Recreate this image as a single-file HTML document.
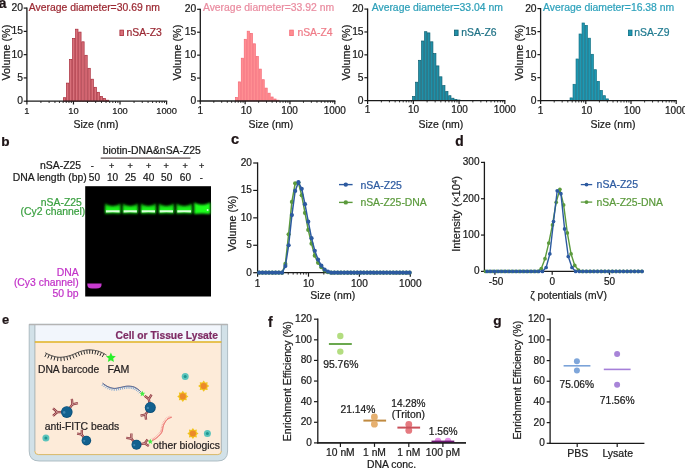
<!DOCTYPE html>
<html><head><meta charset="utf-8"><style>
html,body{margin:0;padding:0;background:#fff;width:685px;height:469px;overflow:hidden}
svg{display:block;font-family:"Liberation Sans", sans-serif;will-change:transform}
text{stroke-width:0.22px;paint-order:stroke}
</style></head><body>
<svg width="685" height="469" viewBox="0 0 685 469">
<defs>
<filter id="gb" x="-30%" y="-60%" width="160%" height="220%"><feGaussianBlur stdDeviation="0.85"/></filter>
<linearGradient id="bandg" x1="0" y1="0" x2="0" y2="1"><stop offset="0" stop-color="#0c900c"/><stop offset="0.45" stop-color="#18f018"/><stop offset="0.75" stop-color="#1ef81e"/><stop offset="1" stop-color="#0a800a"/></linearGradient>
<filter id="gs" x="-30%" y="-60%" width="160%" height="220%"><feGaussianBlur stdDeviation="0.5"/></filter>
</defs>
<text x="-1.3" y="7.5" font-size="13.8" fill="#1e1416" stroke="#1e1416" font-weight="bold">a</text>
<text x="1.15" y="145.6" font-size="13.6" fill="#1e1416" stroke="#1e1416" font-weight="bold">b</text>
<text x="231.1" y="144.1" font-size="14.5" fill="#1e1416" stroke="#1e1416" font-weight="bold">c</text>
<text x="455.2" y="145.6" font-size="13.8" fill="#1e1416" stroke="#1e1416" font-weight="bold">d</text>
<text x="2.1" y="324.3" font-size="12.9" fill="#1e1416" stroke="#1e1416" font-weight="bold">e</text>
<text x="268" y="327.1" font-size="13.8" fill="#1e1416" stroke="#1e1416" font-weight="bold">f</text>
<text x="493.2" y="324.6" font-size="13.6" fill="#1e1416" stroke="#1e1416" font-weight="bold">g</text>
<rect x="63.35" y="97.7" width="2.37" height="3.5" fill="#d8707a" stroke="#a82c3a" stroke-width="0.7"/>
<rect x="66.42" y="83.1" width="2.37" height="18.1" fill="#d8707a" stroke="#a82c3a" stroke-width="0.7"/>
<rect x="69.49" y="59.5" width="2.37" height="41.7" fill="#d8707a" stroke="#a82c3a" stroke-width="0.7"/>
<rect x="72.56" y="38.5" width="2.37" height="62.7" fill="#d8707a" stroke="#a82c3a" stroke-width="0.7"/>
<rect x="75.63" y="29.2" width="2.37" height="72" fill="#d8707a" stroke="#a82c3a" stroke-width="0.7"/>
<rect x="78.7" y="32.1" width="2.37" height="69.1" fill="#d8707a" stroke="#a82c3a" stroke-width="0.7"/>
<rect x="81.77" y="41.8" width="2.37" height="59.4" fill="#d8707a" stroke="#a82c3a" stroke-width="0.7"/>
<rect x="84.84" y="55.3" width="2.37" height="45.9" fill="#d8707a" stroke="#a82c3a" stroke-width="0.7"/>
<rect x="87.91" y="68.3" width="2.37" height="32.9" fill="#d8707a" stroke="#a82c3a" stroke-width="0.7"/>
<rect x="90.98" y="79.2" width="2.37" height="22" fill="#d8707a" stroke="#a82c3a" stroke-width="0.7"/>
<rect x="94.05" y="87.3" width="2.37" height="13.9" fill="#d8707a" stroke="#a82c3a" stroke-width="0.7"/>
<rect x="97.12" y="92.3" width="2.37" height="8.9" fill="#d8707a" stroke="#a82c3a" stroke-width="0.7"/>
<rect x="100.19" y="96.5" width="2.37" height="4.7" fill="#d8707a" stroke="#a82c3a" stroke-width="0.7"/>
<rect x="103.26" y="98.5" width="2.37" height="2.7" fill="#d8707a" stroke="#a82c3a" stroke-width="0.7"/>
<rect x="106.33" y="100.2" width="2.37" height="1" fill="#d8707a" stroke="#a82c3a" stroke-width="0.7"/>
<line x1="26.9" y1="7.5" x2="26.9" y2="101.8" stroke="#1a1a1a" stroke-width="1.3"/>
<line x1="23.7" y1="101.2" x2="26.9" y2="101.2" stroke="#1a1a1a" stroke-width="1.2"/>
<text x="22.9" y="104.1" font-size="10.3" fill="#1a1a1a" stroke="#1a1a1a" text-anchor="end">0</text>
<line x1="23.7" y1="77.92" x2="26.9" y2="77.92" stroke="#1a1a1a" stroke-width="1.2"/>
<text x="22.9" y="80.83" font-size="10.3" fill="#1a1a1a" stroke="#1a1a1a" text-anchor="end">5</text>
<line x1="23.7" y1="54.65" x2="26.9" y2="54.65" stroke="#1a1a1a" stroke-width="1.2"/>
<text x="22.9" y="57.55" font-size="10.3" fill="#1a1a1a" stroke="#1a1a1a" text-anchor="end">10</text>
<line x1="23.7" y1="31.38" x2="26.9" y2="31.38" stroke="#1a1a1a" stroke-width="1.2"/>
<text x="22.9" y="34.27" font-size="10.3" fill="#1a1a1a" stroke="#1a1a1a" text-anchor="end">15</text>
<line x1="23.7" y1="8.1" x2="26.9" y2="8.1" stroke="#1a1a1a" stroke-width="1.2"/>
<text x="22.9" y="11" font-size="10.3" fill="#1a1a1a" stroke="#1a1a1a" text-anchor="end">20</text>
<line x1="26.3" y1="101.2" x2="167.2" y2="101.2" stroke="#1a1a1a" stroke-width="1.3"/>
<line x1="26.9" y1="101.2" x2="26.9" y2="104.5" stroke="#1a1a1a" stroke-width="1.2"/>
<text x="26.9" y="113.9" font-size="9.3" fill="#1a1a1a" stroke="#1a1a1a" text-anchor="middle">1</text>
<line x1="40.92" y1="101.2" x2="40.92" y2="103" stroke="#1a1a1a" stroke-width="0.9"/>
<line x1="49.12" y1="101.2" x2="49.12" y2="103" stroke="#1a1a1a" stroke-width="0.9"/>
<line x1="54.94" y1="101.2" x2="54.94" y2="103" stroke="#1a1a1a" stroke-width="0.9"/>
<line x1="59.45" y1="101.2" x2="59.45" y2="103" stroke="#1a1a1a" stroke-width="0.9"/>
<line x1="63.14" y1="101.2" x2="63.14" y2="103" stroke="#1a1a1a" stroke-width="0.9"/>
<line x1="66.25" y1="101.2" x2="66.25" y2="103" stroke="#1a1a1a" stroke-width="0.9"/>
<line x1="68.95" y1="101.2" x2="68.95" y2="103" stroke="#1a1a1a" stroke-width="0.9"/>
<line x1="71.34" y1="101.2" x2="71.34" y2="103" stroke="#1a1a1a" stroke-width="0.9"/>
<line x1="73.47" y1="101.2" x2="73.47" y2="104.5" stroke="#1a1a1a" stroke-width="1.2"/>
<text x="73.47" y="113.9" font-size="9.3" fill="#1a1a1a" stroke="#1a1a1a" text-anchor="middle">10</text>
<line x1="87.48" y1="101.2" x2="87.48" y2="103" stroke="#1a1a1a" stroke-width="0.9"/>
<line x1="95.68" y1="101.2" x2="95.68" y2="103" stroke="#1a1a1a" stroke-width="0.9"/>
<line x1="101.5" y1="101.2" x2="101.5" y2="103" stroke="#1a1a1a" stroke-width="0.9"/>
<line x1="106.02" y1="101.2" x2="106.02" y2="103" stroke="#1a1a1a" stroke-width="0.9"/>
<line x1="109.7" y1="101.2" x2="109.7" y2="103" stroke="#1a1a1a" stroke-width="0.9"/>
<line x1="112.82" y1="101.2" x2="112.82" y2="103" stroke="#1a1a1a" stroke-width="0.9"/>
<line x1="115.52" y1="101.2" x2="115.52" y2="103" stroke="#1a1a1a" stroke-width="0.9"/>
<line x1="117.9" y1="101.2" x2="117.9" y2="103" stroke="#1a1a1a" stroke-width="0.9"/>
<line x1="120.03" y1="101.2" x2="120.03" y2="104.5" stroke="#1a1a1a" stroke-width="1.2"/>
<text x="120.03" y="113.9" font-size="9.3" fill="#1a1a1a" stroke="#1a1a1a" text-anchor="middle">100</text>
<line x1="134.05" y1="101.2" x2="134.05" y2="103" stroke="#1a1a1a" stroke-width="0.9"/>
<line x1="142.25" y1="101.2" x2="142.25" y2="103" stroke="#1a1a1a" stroke-width="0.9"/>
<line x1="148.07" y1="101.2" x2="148.07" y2="103" stroke="#1a1a1a" stroke-width="0.9"/>
<line x1="152.58" y1="101.2" x2="152.58" y2="103" stroke="#1a1a1a" stroke-width="0.9"/>
<line x1="156.27" y1="101.2" x2="156.27" y2="103" stroke="#1a1a1a" stroke-width="0.9"/>
<line x1="159.39" y1="101.2" x2="159.39" y2="103" stroke="#1a1a1a" stroke-width="0.9"/>
<line x1="162.09" y1="101.2" x2="162.09" y2="103" stroke="#1a1a1a" stroke-width="0.9"/>
<line x1="164.47" y1="101.2" x2="164.47" y2="103" stroke="#1a1a1a" stroke-width="0.9"/>
<line x1="166.6" y1="101.2" x2="166.6" y2="104.5" stroke="#1a1a1a" stroke-width="1.2"/>
<text x="166.6" y="113.9" font-size="9.3" fill="#1a1a1a" stroke="#1a1a1a" text-anchor="middle">1000</text>
<text transform="translate(9.6,52.6) rotate(-90)" x="0" y="0" font-size="10.8" fill="#1a1a1a" stroke="#1a1a1a" text-anchor="middle">Volume (%)</text>
<text x="96" y="127.6" font-size="10.5" fill="#1a1a1a" stroke="#1a1a1a" text-anchor="middle">Size (nm)</text>
<text x="28.8" y="10.7" font-size="10.4" fill="#9c2832" stroke="#9c2832">Average diameter=30.69 nm</text>
<rect x="119.9" y="30.1" width="3.6" height="5.5" fill="#d8707a" stroke="#a82c3a" stroke-width="0.8"/>
<text x="126.6" y="35.8" font-size="10.4" fill="#9a2833" stroke="#9a2833">nSA-Z3</text>
<rect x="235.35" y="97.4" width="2.26" height="3.6" fill="#ff8e92" stroke="#f56a76" stroke-width="0.7"/>
<rect x="238.31" y="81.9" width="2.26" height="19.1" fill="#ff8e92" stroke="#f56a76" stroke-width="0.7"/>
<rect x="241.27" y="58.2" width="2.26" height="42.8" fill="#ff8e92" stroke="#f56a76" stroke-width="0.7"/>
<rect x="244.23" y="39.3" width="2.26" height="61.7" fill="#ff8e92" stroke="#f56a76" stroke-width="0.7"/>
<rect x="247.19" y="31.2" width="2.26" height="69.8" fill="#ff8e92" stroke="#f56a76" stroke-width="0.7"/>
<rect x="250.15" y="33.4" width="2.26" height="67.6" fill="#ff8e92" stroke="#f56a76" stroke-width="0.7"/>
<rect x="253.11" y="43.8" width="2.26" height="57.2" fill="#ff8e92" stroke="#f56a76" stroke-width="0.7"/>
<rect x="256.07" y="56.5" width="2.26" height="44.5" fill="#ff8e92" stroke="#f56a76" stroke-width="0.7"/>
<rect x="259.03" y="69.1" width="2.26" height="31.9" fill="#ff8e92" stroke="#f56a76" stroke-width="0.7"/>
<rect x="261.99" y="79.7" width="2.26" height="21.3" fill="#ff8e92" stroke="#f56a76" stroke-width="0.7"/>
<rect x="264.95" y="88.1" width="2.26" height="12.9" fill="#ff8e92" stroke="#f56a76" stroke-width="0.7"/>
<rect x="267.91" y="93.2" width="2.26" height="7.8" fill="#ff8e92" stroke="#f56a76" stroke-width="0.7"/>
<rect x="270.87" y="97" width="2.26" height="4" fill="#ff8e92" stroke="#f56a76" stroke-width="0.7"/>
<rect x="273.83" y="99" width="2.26" height="2" fill="#ff8e92" stroke="#f56a76" stroke-width="0.7"/>
<rect x="276.79" y="100.2" width="2.26" height="0.8" fill="#ff8e92" stroke="#f56a76" stroke-width="0.7"/>
<line x1="200.3" y1="8.7" x2="200.3" y2="101.6" stroke="#1a1a1a" stroke-width="1.3"/>
<line x1="197.1" y1="101" x2="200.3" y2="101" stroke="#1a1a1a" stroke-width="1.2"/>
<text x="196.3" y="103.9" font-size="10.3" fill="#1a1a1a" stroke="#1a1a1a" text-anchor="end">0</text>
<line x1="197.1" y1="78.08" x2="200.3" y2="78.08" stroke="#1a1a1a" stroke-width="1.2"/>
<text x="196.3" y="80.98" font-size="10.3" fill="#1a1a1a" stroke="#1a1a1a" text-anchor="end">5</text>
<line x1="197.1" y1="55.15" x2="200.3" y2="55.15" stroke="#1a1a1a" stroke-width="1.2"/>
<text x="196.3" y="58.05" font-size="10.3" fill="#1a1a1a" stroke="#1a1a1a" text-anchor="end">10</text>
<line x1="197.1" y1="32.22" x2="200.3" y2="32.22" stroke="#1a1a1a" stroke-width="1.2"/>
<text x="196.3" y="35.12" font-size="10.3" fill="#1a1a1a" stroke="#1a1a1a" text-anchor="end">15</text>
<line x1="197.1" y1="9.3" x2="200.3" y2="9.3" stroke="#1a1a1a" stroke-width="1.2"/>
<text x="196.3" y="12.2" font-size="10.3" fill="#1a1a1a" stroke="#1a1a1a" text-anchor="end">20</text>
<line x1="199.7" y1="101" x2="335.4" y2="101" stroke="#1a1a1a" stroke-width="1.3"/>
<line x1="200.3" y1="101" x2="200.3" y2="104.3" stroke="#1a1a1a" stroke-width="1.2"/>
<text x="200.3" y="113.9" font-size="10" fill="#1a1a1a" stroke="#1a1a1a" text-anchor="middle">1</text>
<line x1="213.8" y1="101" x2="213.8" y2="102.8" stroke="#1a1a1a" stroke-width="0.9"/>
<line x1="221.69" y1="101" x2="221.69" y2="102.8" stroke="#1a1a1a" stroke-width="0.9"/>
<line x1="227.29" y1="101" x2="227.29" y2="102.8" stroke="#1a1a1a" stroke-width="0.9"/>
<line x1="231.64" y1="101" x2="231.64" y2="102.8" stroke="#1a1a1a" stroke-width="0.9"/>
<line x1="235.19" y1="101" x2="235.19" y2="102.8" stroke="#1a1a1a" stroke-width="0.9"/>
<line x1="238.19" y1="101" x2="238.19" y2="102.8" stroke="#1a1a1a" stroke-width="0.9"/>
<line x1="240.79" y1="101" x2="240.79" y2="102.8" stroke="#1a1a1a" stroke-width="0.9"/>
<line x1="243.08" y1="101" x2="243.08" y2="102.8" stroke="#1a1a1a" stroke-width="0.9"/>
<line x1="245.13" y1="101" x2="245.13" y2="104.3" stroke="#1a1a1a" stroke-width="1.2"/>
<text x="246.33" y="113.9" font-size="10" fill="#1a1a1a" stroke="#1a1a1a" text-anchor="middle">10</text>
<line x1="258.63" y1="101" x2="258.63" y2="102.8" stroke="#1a1a1a" stroke-width="0.9"/>
<line x1="266.52" y1="101" x2="266.52" y2="102.8" stroke="#1a1a1a" stroke-width="0.9"/>
<line x1="272.13" y1="101" x2="272.13" y2="102.8" stroke="#1a1a1a" stroke-width="0.9"/>
<line x1="276.47" y1="101" x2="276.47" y2="102.8" stroke="#1a1a1a" stroke-width="0.9"/>
<line x1="280.02" y1="101" x2="280.02" y2="102.8" stroke="#1a1a1a" stroke-width="0.9"/>
<line x1="283.02" y1="101" x2="283.02" y2="102.8" stroke="#1a1a1a" stroke-width="0.9"/>
<line x1="285.62" y1="101" x2="285.62" y2="102.8" stroke="#1a1a1a" stroke-width="0.9"/>
<line x1="287.92" y1="101" x2="287.92" y2="102.8" stroke="#1a1a1a" stroke-width="0.9"/>
<line x1="289.97" y1="101" x2="289.97" y2="104.3" stroke="#1a1a1a" stroke-width="1.2"/>
<text x="289.57" y="113.9" font-size="10" fill="#1a1a1a" stroke="#1a1a1a" text-anchor="middle">100</text>
<line x1="303.46" y1="101" x2="303.46" y2="102.8" stroke="#1a1a1a" stroke-width="0.9"/>
<line x1="311.36" y1="101" x2="311.36" y2="102.8" stroke="#1a1a1a" stroke-width="0.9"/>
<line x1="316.96" y1="101" x2="316.96" y2="102.8" stroke="#1a1a1a" stroke-width="0.9"/>
<line x1="321.3" y1="101" x2="321.3" y2="102.8" stroke="#1a1a1a" stroke-width="0.9"/>
<line x1="324.85" y1="101" x2="324.85" y2="102.8" stroke="#1a1a1a" stroke-width="0.9"/>
<line x1="327.86" y1="101" x2="327.86" y2="102.8" stroke="#1a1a1a" stroke-width="0.9"/>
<line x1="330.46" y1="101" x2="330.46" y2="102.8" stroke="#1a1a1a" stroke-width="0.9"/>
<line x1="332.75" y1="101" x2="332.75" y2="102.8" stroke="#1a1a1a" stroke-width="0.9"/>
<line x1="334.8" y1="101" x2="334.8" y2="104.3" stroke="#1a1a1a" stroke-width="1.2"/>
<text x="334.8" y="113.9" font-size="10" fill="#1a1a1a" stroke="#1a1a1a" text-anchor="middle">1000</text>
<text transform="translate(181.1,52.6) rotate(-90)" x="0" y="0" font-size="10.8" fill="#1a1a1a" stroke="#1a1a1a" text-anchor="middle">Volume (%)</text>
<text x="270.9" y="127.6" font-size="10.5" fill="#1a1a1a" stroke="#1a1a1a" text-anchor="middle">Size (nm)</text>
<text x="202.9" y="10.7" font-size="10.4" fill="#ea8ca0" stroke="#ea8ca0">Average diameter=33.92 nm</text>
<rect x="289.7" y="30.1" width="3.6" height="5.5" fill="#ff8e92" stroke="#f56a76" stroke-width="0.8"/>
<text x="297.4" y="35.8" font-size="10.4" fill="#ef7c88" stroke="#ef7c88">nSA-Z4</text>
<rect x="412.55" y="96.5" width="2.31" height="4.1" fill="#2090a8" stroke="#0f6072" stroke-width="0.7"/>
<rect x="415.56" y="82.2" width="2.31" height="18.4" fill="#2090a8" stroke="#0f6072" stroke-width="0.7"/>
<rect x="418.57" y="60.3" width="2.31" height="40.3" fill="#2090a8" stroke="#0f6072" stroke-width="0.7"/>
<rect x="421.58" y="41" width="2.31" height="59.6" fill="#2090a8" stroke="#0f6072" stroke-width="0.7"/>
<rect x="424.59" y="31.7" width="2.31" height="68.9" fill="#2090a8" stroke="#0f6072" stroke-width="0.7"/>
<rect x="427.6" y="32.9" width="2.31" height="67.7" fill="#2090a8" stroke="#0f6072" stroke-width="0.7"/>
<rect x="430.61" y="41.8" width="2.31" height="58.8" fill="#2090a8" stroke="#0f6072" stroke-width="0.7"/>
<rect x="433.62" y="53.6" width="2.31" height="47" fill="#2090a8" stroke="#0f6072" stroke-width="0.7"/>
<rect x="436.63" y="65.9" width="2.31" height="34.7" fill="#2090a8" stroke="#0f6072" stroke-width="0.7"/>
<rect x="439.64" y="76.8" width="2.31" height="23.8" fill="#2090a8" stroke="#0f6072" stroke-width="0.7"/>
<rect x="442.65" y="85.6" width="2.31" height="15" fill="#2090a8" stroke="#0f6072" stroke-width="0.7"/>
<rect x="445.66" y="91.5" width="2.31" height="9.1" fill="#2090a8" stroke="#0f6072" stroke-width="0.7"/>
<rect x="448.67" y="95.7" width="2.31" height="4.9" fill="#2090a8" stroke="#0f6072" stroke-width="0.7"/>
<rect x="451.68" y="98.2" width="2.31" height="2.4" fill="#2090a8" stroke="#0f6072" stroke-width="0.7"/>
<rect x="454.69" y="99.4" width="2.31" height="1.2" fill="#2090a8" stroke="#0f6072" stroke-width="0.7"/>
<rect x="457.7" y="100" width="2.31" height="0.6" fill="#2090a8" stroke="#0f6072" stroke-width="0.7"/>
<line x1="367.6" y1="8.5" x2="367.6" y2="101.2" stroke="#1a1a1a" stroke-width="1.3"/>
<line x1="364.4" y1="100.6" x2="367.6" y2="100.6" stroke="#1a1a1a" stroke-width="1.2"/>
<text x="363.6" y="103.5" font-size="10.3" fill="#1a1a1a" stroke="#1a1a1a" text-anchor="end">0</text>
<line x1="364.4" y1="77.72" x2="367.6" y2="77.72" stroke="#1a1a1a" stroke-width="1.2"/>
<text x="363.6" y="80.62" font-size="10.3" fill="#1a1a1a" stroke="#1a1a1a" text-anchor="end">5</text>
<line x1="364.4" y1="54.85" x2="367.6" y2="54.85" stroke="#1a1a1a" stroke-width="1.2"/>
<text x="363.6" y="57.75" font-size="10.3" fill="#1a1a1a" stroke="#1a1a1a" text-anchor="end">10</text>
<line x1="364.4" y1="31.97" x2="367.6" y2="31.97" stroke="#1a1a1a" stroke-width="1.2"/>
<text x="363.6" y="34.87" font-size="10.3" fill="#1a1a1a" stroke="#1a1a1a" text-anchor="end">15</text>
<line x1="364.4" y1="9.1" x2="367.6" y2="9.1" stroke="#1a1a1a" stroke-width="1.2"/>
<text x="363.6" y="12" font-size="10.3" fill="#1a1a1a" stroke="#1a1a1a" text-anchor="end">20</text>
<line x1="367" y1="100.6" x2="505.4" y2="100.6" stroke="#1a1a1a" stroke-width="1.3"/>
<line x1="367.6" y1="100.6" x2="367.6" y2="103.9" stroke="#1a1a1a" stroke-width="1.2"/>
<text x="367.6" y="113.2" font-size="10" fill="#1a1a1a" stroke="#1a1a1a" text-anchor="middle">1</text>
<line x1="381.37" y1="100.6" x2="381.37" y2="102.4" stroke="#1a1a1a" stroke-width="0.9"/>
<line x1="389.42" y1="100.6" x2="389.42" y2="102.4" stroke="#1a1a1a" stroke-width="0.9"/>
<line x1="395.13" y1="100.6" x2="395.13" y2="102.4" stroke="#1a1a1a" stroke-width="0.9"/>
<line x1="399.57" y1="100.6" x2="399.57" y2="102.4" stroke="#1a1a1a" stroke-width="0.9"/>
<line x1="403.19" y1="100.6" x2="403.19" y2="102.4" stroke="#1a1a1a" stroke-width="0.9"/>
<line x1="406.25" y1="100.6" x2="406.25" y2="102.4" stroke="#1a1a1a" stroke-width="0.9"/>
<line x1="408.9" y1="100.6" x2="408.9" y2="102.4" stroke="#1a1a1a" stroke-width="0.9"/>
<line x1="411.24" y1="100.6" x2="411.24" y2="102.4" stroke="#1a1a1a" stroke-width="0.9"/>
<line x1="413.33" y1="100.6" x2="413.33" y2="103.9" stroke="#1a1a1a" stroke-width="1.2"/>
<text x="413.63" y="113.2" font-size="10" fill="#1a1a1a" stroke="#1a1a1a" text-anchor="middle">10</text>
<line x1="427.1" y1="100.6" x2="427.1" y2="102.4" stroke="#1a1a1a" stroke-width="0.9"/>
<line x1="435.15" y1="100.6" x2="435.15" y2="102.4" stroke="#1a1a1a" stroke-width="0.9"/>
<line x1="440.87" y1="100.6" x2="440.87" y2="102.4" stroke="#1a1a1a" stroke-width="0.9"/>
<line x1="445.3" y1="100.6" x2="445.3" y2="102.4" stroke="#1a1a1a" stroke-width="0.9"/>
<line x1="448.92" y1="100.6" x2="448.92" y2="102.4" stroke="#1a1a1a" stroke-width="0.9"/>
<line x1="451.98" y1="100.6" x2="451.98" y2="102.4" stroke="#1a1a1a" stroke-width="0.9"/>
<line x1="454.63" y1="100.6" x2="454.63" y2="102.4" stroke="#1a1a1a" stroke-width="0.9"/>
<line x1="456.97" y1="100.6" x2="456.97" y2="102.4" stroke="#1a1a1a" stroke-width="0.9"/>
<line x1="459.07" y1="100.6" x2="459.07" y2="103.9" stroke="#1a1a1a" stroke-width="1.2"/>
<text x="459.57" y="113.2" font-size="10" fill="#1a1a1a" stroke="#1a1a1a" text-anchor="middle">100</text>
<line x1="472.83" y1="100.6" x2="472.83" y2="102.4" stroke="#1a1a1a" stroke-width="0.9"/>
<line x1="480.89" y1="100.6" x2="480.89" y2="102.4" stroke="#1a1a1a" stroke-width="0.9"/>
<line x1="486.6" y1="100.6" x2="486.6" y2="102.4" stroke="#1a1a1a" stroke-width="0.9"/>
<line x1="491.03" y1="100.6" x2="491.03" y2="102.4" stroke="#1a1a1a" stroke-width="0.9"/>
<line x1="494.65" y1="100.6" x2="494.65" y2="102.4" stroke="#1a1a1a" stroke-width="0.9"/>
<line x1="497.72" y1="100.6" x2="497.72" y2="102.4" stroke="#1a1a1a" stroke-width="0.9"/>
<line x1="500.37" y1="100.6" x2="500.37" y2="102.4" stroke="#1a1a1a" stroke-width="0.9"/>
<line x1="502.71" y1="100.6" x2="502.71" y2="102.4" stroke="#1a1a1a" stroke-width="0.9"/>
<line x1="504.8" y1="100.6" x2="504.8" y2="103.9" stroke="#1a1a1a" stroke-width="1.2"/>
<text x="504.8" y="113.2" font-size="10" fill="#1a1a1a" stroke="#1a1a1a" text-anchor="middle">1000</text>
<text transform="translate(350.4,52.6) rotate(-90)" x="0" y="0" font-size="10.8" fill="#1a1a1a" stroke="#1a1a1a" text-anchor="middle">Volume (%)</text>
<text x="440.9" y="127.6" font-size="10.5" fill="#1a1a1a" stroke="#1a1a1a" text-anchor="middle">Size (nm)</text>
<text x="371.7" y="10.7" font-size="10.4" fill="#2c9fb8" stroke="#2c9fb8">Average diameter=33.04 nm</text>
<rect x="454.5" y="30.1" width="3.6" height="5.5" fill="#2090a8" stroke="#0f6072" stroke-width="0.8"/>
<text x="461.3" y="35.8" font-size="10.4" fill="#1f7286" stroke="#1f7286">nSA-Z6</text>
<rect x="570.05" y="97.9" width="2.3" height="2.8" fill="#1f98b2" stroke="#0e6f84" stroke-width="0.7"/>
<rect x="573.05" y="84.3" width="2.3" height="16.4" fill="#1f98b2" stroke="#0e6f84" stroke-width="0.7"/>
<rect x="576.05" y="59" width="2.3" height="41.7" fill="#1f98b2" stroke="#0e6f84" stroke-width="0.7"/>
<rect x="579.05" y="34" width="2.3" height="66.7" fill="#1f98b2" stroke="#0e6f84" stroke-width="0.7"/>
<rect x="582.05" y="23" width="2.3" height="77.7" fill="#1f98b2" stroke="#0e6f84" stroke-width="0.7"/>
<rect x="585.05" y="25.4" width="2.3" height="75.3" fill="#1f98b2" stroke="#0e6f84" stroke-width="0.7"/>
<rect x="588.05" y="38.2" width="2.3" height="62.5" fill="#1f98b2" stroke="#0e6f84" stroke-width="0.7"/>
<rect x="591.05" y="54.3" width="2.3" height="46.4" fill="#1f98b2" stroke="#0e6f84" stroke-width="0.7"/>
<rect x="594.05" y="69.7" width="2.3" height="31" fill="#1f98b2" stroke="#0e6f84" stroke-width="0.7"/>
<rect x="597.05" y="81.4" width="2.3" height="19.3" fill="#1f98b2" stroke="#0e6f84" stroke-width="0.7"/>
<rect x="600.05" y="90.5" width="2.3" height="10.2" fill="#1f98b2" stroke="#0e6f84" stroke-width="0.7"/>
<rect x="603.05" y="95.7" width="2.3" height="5" fill="#1f98b2" stroke="#0e6f84" stroke-width="0.7"/>
<rect x="606.05" y="98.9" width="2.3" height="1.8" fill="#1f98b2" stroke="#0e6f84" stroke-width="0.7"/>
<line x1="540.6" y1="8" x2="540.6" y2="101.3" stroke="#1a1a1a" stroke-width="1.3"/>
<line x1="537.4" y1="100.7" x2="540.6" y2="100.7" stroke="#1a1a1a" stroke-width="1.2"/>
<text x="536.6" y="103.6" font-size="10.3" fill="#1a1a1a" stroke="#1a1a1a" text-anchor="end">0</text>
<line x1="537.4" y1="77.67" x2="540.6" y2="77.67" stroke="#1a1a1a" stroke-width="1.2"/>
<text x="536.6" y="80.58" font-size="10.3" fill="#1a1a1a" stroke="#1a1a1a" text-anchor="end">5</text>
<line x1="537.4" y1="54.65" x2="540.6" y2="54.65" stroke="#1a1a1a" stroke-width="1.2"/>
<text x="536.6" y="57.55" font-size="10.3" fill="#1a1a1a" stroke="#1a1a1a" text-anchor="end">10</text>
<line x1="537.4" y1="31.62" x2="540.6" y2="31.62" stroke="#1a1a1a" stroke-width="1.2"/>
<text x="536.6" y="34.52" font-size="10.3" fill="#1a1a1a" stroke="#1a1a1a" text-anchor="end">15</text>
<line x1="537.4" y1="8.6" x2="540.6" y2="8.6" stroke="#1a1a1a" stroke-width="1.2"/>
<text x="536.6" y="11.5" font-size="10.3" fill="#1a1a1a" stroke="#1a1a1a" text-anchor="end">20</text>
<line x1="540" y1="100.7" x2="676.8" y2="100.7" stroke="#1a1a1a" stroke-width="1.3"/>
<line x1="540.6" y1="100.7" x2="540.6" y2="104" stroke="#1a1a1a" stroke-width="1.2"/>
<text x="540.6" y="113.5" font-size="10" fill="#1a1a1a" stroke="#1a1a1a" text-anchor="middle">1</text>
<line x1="554.21" y1="100.7" x2="554.21" y2="102.5" stroke="#1a1a1a" stroke-width="0.9"/>
<line x1="562.17" y1="100.7" x2="562.17" y2="102.5" stroke="#1a1a1a" stroke-width="0.9"/>
<line x1="567.81" y1="100.7" x2="567.81" y2="102.5" stroke="#1a1a1a" stroke-width="0.9"/>
<line x1="572.19" y1="100.7" x2="572.19" y2="102.5" stroke="#1a1a1a" stroke-width="0.9"/>
<line x1="575.77" y1="100.7" x2="575.77" y2="102.5" stroke="#1a1a1a" stroke-width="0.9"/>
<line x1="578.8" y1="100.7" x2="578.8" y2="102.5" stroke="#1a1a1a" stroke-width="0.9"/>
<line x1="581.42" y1="100.7" x2="581.42" y2="102.5" stroke="#1a1a1a" stroke-width="0.9"/>
<line x1="583.73" y1="100.7" x2="583.73" y2="102.5" stroke="#1a1a1a" stroke-width="0.9"/>
<line x1="585.8" y1="100.7" x2="585.8" y2="104" stroke="#1a1a1a" stroke-width="1.2"/>
<text x="586.8" y="113.5" font-size="10" fill="#1a1a1a" stroke="#1a1a1a" text-anchor="middle">10</text>
<line x1="599.41" y1="100.7" x2="599.41" y2="102.5" stroke="#1a1a1a" stroke-width="0.9"/>
<line x1="607.37" y1="100.7" x2="607.37" y2="102.5" stroke="#1a1a1a" stroke-width="0.9"/>
<line x1="613.01" y1="100.7" x2="613.01" y2="102.5" stroke="#1a1a1a" stroke-width="0.9"/>
<line x1="617.39" y1="100.7" x2="617.39" y2="102.5" stroke="#1a1a1a" stroke-width="0.9"/>
<line x1="620.97" y1="100.7" x2="620.97" y2="102.5" stroke="#1a1a1a" stroke-width="0.9"/>
<line x1="624" y1="100.7" x2="624" y2="102.5" stroke="#1a1a1a" stroke-width="0.9"/>
<line x1="626.62" y1="100.7" x2="626.62" y2="102.5" stroke="#1a1a1a" stroke-width="0.9"/>
<line x1="628.93" y1="100.7" x2="628.93" y2="102.5" stroke="#1a1a1a" stroke-width="0.9"/>
<line x1="631" y1="100.7" x2="631" y2="104" stroke="#1a1a1a" stroke-width="1.2"/>
<text x="632.3" y="113.5" font-size="10" fill="#1a1a1a" stroke="#1a1a1a" text-anchor="middle">100</text>
<line x1="644.61" y1="100.7" x2="644.61" y2="102.5" stroke="#1a1a1a" stroke-width="0.9"/>
<line x1="652.57" y1="100.7" x2="652.57" y2="102.5" stroke="#1a1a1a" stroke-width="0.9"/>
<line x1="658.21" y1="100.7" x2="658.21" y2="102.5" stroke="#1a1a1a" stroke-width="0.9"/>
<line x1="662.59" y1="100.7" x2="662.59" y2="102.5" stroke="#1a1a1a" stroke-width="0.9"/>
<line x1="666.17" y1="100.7" x2="666.17" y2="102.5" stroke="#1a1a1a" stroke-width="0.9"/>
<line x1="669.2" y1="100.7" x2="669.2" y2="102.5" stroke="#1a1a1a" stroke-width="0.9"/>
<line x1="671.82" y1="100.7" x2="671.82" y2="102.5" stroke="#1a1a1a" stroke-width="0.9"/>
<line x1="674.13" y1="100.7" x2="674.13" y2="102.5" stroke="#1a1a1a" stroke-width="0.9"/>
<line x1="676.2" y1="100.7" x2="676.2" y2="104" stroke="#1a1a1a" stroke-width="1.2"/>
<text x="676.2" y="113.5" font-size="10" fill="#1a1a1a" stroke="#1a1a1a" text-anchor="middle">1000</text>
<text transform="translate(523.3,52.6) rotate(-90)" x="0" y="0" font-size="10.8" fill="#1a1a1a" stroke="#1a1a1a" text-anchor="middle">Volume (%)</text>
<text x="613" y="127.6" font-size="10.5" fill="#1a1a1a" stroke="#1a1a1a" text-anchor="middle">Size (nm)</text>
<text x="543" y="10.7" font-size="10.4" fill="#2ea2bc" stroke="#2ea2bc">Average diameter=16.38 nm</text>
<rect x="628.4" y="30.1" width="3.6" height="5.5" fill="#1f98b2" stroke="#0e6f84" stroke-width="0.8"/>
<text x="634.2" y="35.8" font-size="10.4" fill="#1f7a90" stroke="#1f7a90">nSA-Z9</text>
<text x="81.1" y="168.7" font-size="10.4" fill="#1a1a1a" stroke="#1a1a1a" text-anchor="end">nSA-Z25</text>
<text x="86.7" y="180.8" font-size="10.4" fill="#1a1a1a" stroke="#1a1a1a" text-anchor="end">DNA length (bp)</text>
<text x="102.7" y="154.2" font-size="10.4" fill="#1a1a1a" stroke="#1a1a1a">biotin-DNA&amp;nSA-Z25</text>
<line x1="100.7" y1="158.2" x2="190.4" y2="158.2" stroke="#5a4b4b" stroke-width="1.3"/>
<text x="92.3" y="168.9" font-size="9.2" fill="#1a1a1a" stroke="#1a1a1a" text-anchor="middle">-</text>
<text x="111.7" y="168.9" font-size="9.2" fill="#1a1a1a" stroke="#1a1a1a" text-anchor="middle">+</text>
<text x="130.3" y="168.9" font-size="9.2" fill="#1a1a1a" stroke="#1a1a1a" text-anchor="middle">+</text>
<text x="148.6" y="168.9" font-size="9.2" fill="#1a1a1a" stroke="#1a1a1a" text-anchor="middle">+</text>
<text x="166.2" y="168.9" font-size="9.2" fill="#1a1a1a" stroke="#1a1a1a" text-anchor="middle">+</text>
<text x="185.3" y="168.9" font-size="9.2" fill="#1a1a1a" stroke="#1a1a1a" text-anchor="middle">+</text>
<text x="201.8" y="168.9" font-size="9.2" fill="#1a1a1a" stroke="#1a1a1a" text-anchor="middle">+</text>
<text x="94.4" y="180.6" font-size="10.1" fill="#1a1a1a" stroke="#1a1a1a" text-anchor="middle">50</text>
<text x="112.6" y="180.6" font-size="10.1" fill="#1a1a1a" stroke="#1a1a1a" text-anchor="middle">10</text>
<text x="130.6" y="180.6" font-size="10.1" fill="#1a1a1a" stroke="#1a1a1a" text-anchor="middle">25</text>
<text x="148.7" y="180.6" font-size="10.1" fill="#1a1a1a" stroke="#1a1a1a" text-anchor="middle">40</text>
<text x="166.7" y="180.6" font-size="10.1" fill="#1a1a1a" stroke="#1a1a1a" text-anchor="middle">50</text>
<text x="185.4" y="180.6" font-size="10.1" fill="#1a1a1a" stroke="#1a1a1a" text-anchor="middle">60</text>
<text x="201.3" y="180.6" font-size="9.2" fill="#1a1a1a" stroke="#1a1a1a" text-anchor="middle">-</text>
<rect x="85.2" y="186.2" width="125.8" height="110.3" fill="#000000"/>
<text x="81.8" y="206.4" font-size="10.4" fill="#3aa040" stroke="#3aa040" text-anchor="end">nSA-Z25</text>
<text x="85.3" y="215.2" font-size="10.4" fill="#3aa040" stroke="#3aa040" text-anchor="end">(Cy2 channel)</text>
<text x="78.6" y="276.4" font-size="10.4" fill="#c232c8" stroke="#c232c8" text-anchor="end">DNA</text>
<text x="78.6" y="286.1" font-size="10.4" fill="#c232c8" stroke="#c232c8" text-anchor="end">(Cy3 channel)</text>
<text x="78.6" y="296.9" font-size="10.4" fill="#c232c8" stroke="#c232c8" text-anchor="end">50 bp</text>
<path d="M105,203.6 Q112.75,208.4 120.5,203.6 L120.5,214 Q112.75,213 105,214 Z" fill="url(#bandg)" filter="url(#gb)"/>
<path d="M105.9,210.2 Q112.75,210.5 119.6,210.2 L119.6,212.4 Q112.75,212.2 105.9,212.4 Z" fill="#d8ffd8" filter="url(#gs)"/>
<path d="M122.7,203.6 Q130.25,208.4 137.8,203.6 L137.8,214 Q130.25,213 122.7,214 Z" fill="url(#bandg)" filter="url(#gb)"/>
<path d="M123.6,210.2 Q130.25,210.5 136.9,210.2 L136.9,212.4 Q130.25,212.2 123.6,212.4 Z" fill="#d8ffd8" filter="url(#gs)"/>
<path d="M140.8,203.6 Q148.35,208.4 155.9,203.6 L155.9,214 Q148.35,213 140.8,214 Z" fill="url(#bandg)" filter="url(#gb)"/>
<path d="M141.7,210.2 Q148.35,210.5 155,210.2 L155,212.4 Q148.35,212.2 141.7,212.4 Z" fill="#d8ffd8" filter="url(#gs)"/>
<path d="M158.8,203.6 Q166.35,208.4 173.9,203.6 L173.9,214 Q166.35,213 158.8,214 Z" fill="url(#bandg)" filter="url(#gb)"/>
<path d="M159.7,210.2 Q166.35,210.5 173,210.2 L173,212.4 Q166.35,212.2 159.7,212.4 Z" fill="#d8ffd8" filter="url(#gs)"/>
<path d="M176.4,203.6 Q184.2,208.4 192,203.6 L192,214 Q184.2,213 176.4,214 Z" fill="url(#bandg)" filter="url(#gb)"/>
<path d="M177.3,210.2 Q184.2,210.5 191.1,210.2 L191.1,212.4 Q184.2,212.2 177.3,212.4 Z" fill="#d8ffd8" filter="url(#gs)"/>
<path d="M194.2,202.4 Q202.2,207 210.2,202.4 L210.2,214 Q202.2,213 194.2,214 Z" fill="#1cff1c" filter="url(#gb)"/>
<circle cx="207.6" cy="210" r="1" fill="#c8ffc8" filter="url(#gs)"/>
<path d="M87.3,283.4 L101.6,283.4 Q102,288.6 96,288.6 L92,288.6 Q87,288.6 87.3,283.4 Z" fill="#c83ad0" filter="url(#gs)"/>
<line x1="257.6" y1="162.4" x2="257.6" y2="273.3" stroke="#1a1a1a" stroke-width="1.3"/>
<line x1="253.2" y1="272.7" x2="257.6" y2="272.7" stroke="#1a1a1a" stroke-width="1.2"/>
<text x="251.9" y="275.6" font-size="10.1" fill="#1a1a1a" stroke="#1a1a1a" text-anchor="end">0</text>
<line x1="253.2" y1="245.27" x2="257.6" y2="245.27" stroke="#1a1a1a" stroke-width="1.2"/>
<text x="251.9" y="248.17" font-size="10.1" fill="#1a1a1a" stroke="#1a1a1a" text-anchor="end">5</text>
<line x1="253.2" y1="217.85" x2="257.6" y2="217.85" stroke="#1a1a1a" stroke-width="1.2"/>
<text x="251.9" y="220.75" font-size="10.1" fill="#1a1a1a" stroke="#1a1a1a" text-anchor="end">10</text>
<line x1="253.2" y1="190.43" x2="257.6" y2="190.43" stroke="#1a1a1a" stroke-width="1.2"/>
<text x="251.9" y="193.33" font-size="10.1" fill="#1a1a1a" stroke="#1a1a1a" text-anchor="end">15</text>
<line x1="253.2" y1="163" x2="257.6" y2="163" stroke="#1a1a1a" stroke-width="1.2"/>
<text x="251.9" y="165.9" font-size="10.1" fill="#1a1a1a" stroke="#1a1a1a" text-anchor="end">20</text>
<line x1="257" y1="272.7" x2="410.9" y2="272.7" stroke="#1a1a1a" stroke-width="1.3"/>
<line x1="257.6" y1="272.7" x2="257.6" y2="276.7" stroke="#1a1a1a" stroke-width="1.2"/>
<text x="257.6" y="286.9" font-size="10.1" fill="#1a1a1a" stroke="#1a1a1a" text-anchor="middle">1</text>
<line x1="272.92" y1="272.7" x2="272.92" y2="274.6" stroke="#1a1a1a" stroke-width="0.9"/>
<line x1="281.89" y1="272.7" x2="281.89" y2="274.6" stroke="#1a1a1a" stroke-width="0.9"/>
<line x1="288.24" y1="272.7" x2="288.24" y2="274.6" stroke="#1a1a1a" stroke-width="0.9"/>
<line x1="293.18" y1="272.7" x2="293.18" y2="274.6" stroke="#1a1a1a" stroke-width="0.9"/>
<line x1="297.21" y1="272.7" x2="297.21" y2="274.6" stroke="#1a1a1a" stroke-width="0.9"/>
<line x1="300.62" y1="272.7" x2="300.62" y2="274.6" stroke="#1a1a1a" stroke-width="0.9"/>
<line x1="303.57" y1="272.7" x2="303.57" y2="274.6" stroke="#1a1a1a" stroke-width="0.9"/>
<line x1="306.17" y1="272.7" x2="306.17" y2="274.6" stroke="#1a1a1a" stroke-width="0.9"/>
<line x1="308.5" y1="272.7" x2="308.5" y2="276.7" stroke="#1a1a1a" stroke-width="1.2"/>
<text x="308.5" y="286.9" font-size="10.1" fill="#1a1a1a" stroke="#1a1a1a" text-anchor="middle">10</text>
<line x1="323.82" y1="272.7" x2="323.82" y2="274.6" stroke="#1a1a1a" stroke-width="0.9"/>
<line x1="332.79" y1="272.7" x2="332.79" y2="274.6" stroke="#1a1a1a" stroke-width="0.9"/>
<line x1="339.14" y1="272.7" x2="339.14" y2="274.6" stroke="#1a1a1a" stroke-width="0.9"/>
<line x1="344.08" y1="272.7" x2="344.08" y2="274.6" stroke="#1a1a1a" stroke-width="0.9"/>
<line x1="348.11" y1="272.7" x2="348.11" y2="274.6" stroke="#1a1a1a" stroke-width="0.9"/>
<line x1="351.52" y1="272.7" x2="351.52" y2="274.6" stroke="#1a1a1a" stroke-width="0.9"/>
<line x1="354.47" y1="272.7" x2="354.47" y2="274.6" stroke="#1a1a1a" stroke-width="0.9"/>
<line x1="357.07" y1="272.7" x2="357.07" y2="274.6" stroke="#1a1a1a" stroke-width="0.9"/>
<line x1="359.4" y1="272.7" x2="359.4" y2="276.7" stroke="#1a1a1a" stroke-width="1.2"/>
<text x="359.4" y="286.9" font-size="10.1" fill="#1a1a1a" stroke="#1a1a1a" text-anchor="middle">100</text>
<line x1="374.72" y1="272.7" x2="374.72" y2="274.6" stroke="#1a1a1a" stroke-width="0.9"/>
<line x1="383.69" y1="272.7" x2="383.69" y2="274.6" stroke="#1a1a1a" stroke-width="0.9"/>
<line x1="390.04" y1="272.7" x2="390.04" y2="274.6" stroke="#1a1a1a" stroke-width="0.9"/>
<line x1="394.98" y1="272.7" x2="394.98" y2="274.6" stroke="#1a1a1a" stroke-width="0.9"/>
<line x1="399.01" y1="272.7" x2="399.01" y2="274.6" stroke="#1a1a1a" stroke-width="0.9"/>
<line x1="402.42" y1="272.7" x2="402.42" y2="274.6" stroke="#1a1a1a" stroke-width="0.9"/>
<line x1="405.37" y1="272.7" x2="405.37" y2="274.6" stroke="#1a1a1a" stroke-width="0.9"/>
<line x1="407.97" y1="272.7" x2="407.97" y2="274.6" stroke="#1a1a1a" stroke-width="0.9"/>
<line x1="410.3" y1="272.7" x2="410.3" y2="276.7" stroke="#1a1a1a" stroke-width="1.2"/>
<text x="410.3" y="286.9" font-size="10.1" fill="#1a1a1a" stroke="#1a1a1a" text-anchor="middle">1000</text>
<text transform="translate(236.2,223.5) rotate(-90)" x="0" y="0" font-size="10.8" fill="#1a1a1a" stroke="#1a1a1a" text-anchor="middle">Volume (%)</text>
<text x="332.7" y="298.7" font-size="10.5" fill="#1a1a1a" stroke="#1a1a1a" text-anchor="middle">Size (nm)</text>
<polyline points="259.2,272.7 262.47,272.7 265.74,272.7 269.01,272.7 272.28,272.7 275.55,272.7 278.82,272.7 282.09,272.7 285.36,263.92 288.63,234.31 291.9,201.94 295.17,183.29 298.44,182.75 301.71,195.36 304.98,212.91 308.25,229.92 311.52,243.63 314.79,255.7 318.06,262.83 321.33,267.21 324.6,270.51 327.87,272.15 331.14,272.7 334.41,272.7 337.68,272.7 340.95,272.7 344.22,272.7 347.49,272.7 350.76,272.7 354.03,272.7 357.3,272.7 360.57,272.7 363.84,272.7 367.11,272.7 370.38,272.7 373.65,272.7 376.92,272.7 380.19,272.7 383.46,272.7 386.73,272.7 390,272.7 393.27,272.7 396.54,272.7 399.81,272.7 403.08,272.7 406.35,272.7 409.62,272.7" fill="none" stroke="#5b9a3c" stroke-width="1.5" stroke-linejoin="round"/>
<circle cx="259.2" cy="272.7" r="2.1" fill="#5b9a3c"/>
<circle cx="262.47" cy="272.7" r="2.1" fill="#5b9a3c"/>
<circle cx="265.74" cy="272.7" r="2.1" fill="#5b9a3c"/>
<circle cx="269.01" cy="272.7" r="2.1" fill="#5b9a3c"/>
<circle cx="272.28" cy="272.7" r="2.1" fill="#5b9a3c"/>
<circle cx="275.55" cy="272.7" r="2.1" fill="#5b9a3c"/>
<circle cx="278.82" cy="272.7" r="2.1" fill="#5b9a3c"/>
<circle cx="282.09" cy="272.7" r="2.1" fill="#5b9a3c"/>
<circle cx="285.36" cy="263.92" r="2.1" fill="#5b9a3c"/>
<circle cx="288.63" cy="234.31" r="2.1" fill="#5b9a3c"/>
<circle cx="291.9" cy="201.94" r="2.1" fill="#5b9a3c"/>
<circle cx="295.17" cy="183.29" r="2.1" fill="#5b9a3c"/>
<circle cx="298.44" cy="182.75" r="2.1" fill="#5b9a3c"/>
<circle cx="301.71" cy="195.36" r="2.1" fill="#5b9a3c"/>
<circle cx="304.98" cy="212.91" r="2.1" fill="#5b9a3c"/>
<circle cx="308.25" cy="229.92" r="2.1" fill="#5b9a3c"/>
<circle cx="311.52" cy="243.63" r="2.1" fill="#5b9a3c"/>
<circle cx="314.79" cy="255.7" r="2.1" fill="#5b9a3c"/>
<circle cx="318.06" cy="262.83" r="2.1" fill="#5b9a3c"/>
<circle cx="321.33" cy="267.21" r="2.1" fill="#5b9a3c"/>
<circle cx="324.6" cy="270.51" r="2.1" fill="#5b9a3c"/>
<circle cx="327.87" cy="272.15" r="2.1" fill="#5b9a3c"/>
<circle cx="331.14" cy="272.7" r="2.1" fill="#5b9a3c"/>
<circle cx="334.41" cy="272.7" r="2.1" fill="#5b9a3c"/>
<circle cx="337.68" cy="272.7" r="2.1" fill="#5b9a3c"/>
<circle cx="340.95" cy="272.7" r="2.1" fill="#5b9a3c"/>
<circle cx="344.22" cy="272.7" r="2.1" fill="#5b9a3c"/>
<circle cx="347.49" cy="272.7" r="2.1" fill="#5b9a3c"/>
<circle cx="350.76" cy="272.7" r="2.1" fill="#5b9a3c"/>
<circle cx="354.03" cy="272.7" r="2.1" fill="#5b9a3c"/>
<circle cx="357.3" cy="272.7" r="2.1" fill="#5b9a3c"/>
<circle cx="360.57" cy="272.7" r="2.1" fill="#5b9a3c"/>
<circle cx="363.84" cy="272.7" r="2.1" fill="#5b9a3c"/>
<circle cx="367.11" cy="272.7" r="2.1" fill="#5b9a3c"/>
<circle cx="370.38" cy="272.7" r="2.1" fill="#5b9a3c"/>
<circle cx="373.65" cy="272.7" r="2.1" fill="#5b9a3c"/>
<circle cx="376.92" cy="272.7" r="2.1" fill="#5b9a3c"/>
<circle cx="380.19" cy="272.7" r="2.1" fill="#5b9a3c"/>
<circle cx="383.46" cy="272.7" r="2.1" fill="#5b9a3c"/>
<circle cx="386.73" cy="272.7" r="2.1" fill="#5b9a3c"/>
<circle cx="390" cy="272.7" r="2.1" fill="#5b9a3c"/>
<circle cx="393.27" cy="272.7" r="2.1" fill="#5b9a3c"/>
<circle cx="396.54" cy="272.7" r="2.1" fill="#5b9a3c"/>
<circle cx="399.81" cy="272.7" r="2.1" fill="#5b9a3c"/>
<circle cx="403.08" cy="272.7" r="2.1" fill="#5b9a3c"/>
<circle cx="406.35" cy="272.7" r="2.1" fill="#5b9a3c"/>
<circle cx="409.62" cy="272.7" r="2.1" fill="#5b9a3c"/>
<polyline points="259.2,272.7 262.47,272.7 265.74,272.7 269.01,272.7 272.28,272.7 275.55,272.7 278.82,272.7 282.09,272.7 285.36,266.12 288.63,245.27 291.9,215.11 295.17,190.97 298.44,182.2 301.71,188.78 304.98,204.14 308.25,221.69 311.52,238.14 314.79,250.76 318.06,259.54 321.33,265.57 324.6,269.57 327.87,271.6 331.14,272.7 334.41,272.7 337.68,272.7 340.95,272.7 344.22,272.7 347.49,272.7 350.76,272.7 354.03,272.7 357.3,272.7 360.57,272.7 363.84,272.7 367.11,272.7 370.38,272.7 373.65,272.7 376.92,272.7 380.19,272.7 383.46,272.7 386.73,272.7 390,272.7 393.27,272.7 396.54,272.7 399.81,272.7 403.08,272.7 406.35,272.7 409.62,272.7" fill="none" stroke="#2c5aa0" stroke-width="1.5" stroke-linejoin="round"/>
<circle cx="259.2" cy="272.7" r="2.1" fill="#2c5aa0"/>
<circle cx="262.47" cy="272.7" r="2.1" fill="#2c5aa0"/>
<circle cx="265.74" cy="272.7" r="2.1" fill="#2c5aa0"/>
<circle cx="269.01" cy="272.7" r="2.1" fill="#2c5aa0"/>
<circle cx="272.28" cy="272.7" r="2.1" fill="#2c5aa0"/>
<circle cx="275.55" cy="272.7" r="2.1" fill="#2c5aa0"/>
<circle cx="278.82" cy="272.7" r="2.1" fill="#2c5aa0"/>
<circle cx="282.09" cy="272.7" r="2.1" fill="#2c5aa0"/>
<circle cx="285.36" cy="266.12" r="2.1" fill="#2c5aa0"/>
<circle cx="288.63" cy="245.27" r="2.1" fill="#2c5aa0"/>
<circle cx="291.9" cy="215.11" r="2.1" fill="#2c5aa0"/>
<circle cx="295.17" cy="190.97" r="2.1" fill="#2c5aa0"/>
<circle cx="298.44" cy="182.2" r="2.1" fill="#2c5aa0"/>
<circle cx="301.71" cy="188.78" r="2.1" fill="#2c5aa0"/>
<circle cx="304.98" cy="204.14" r="2.1" fill="#2c5aa0"/>
<circle cx="308.25" cy="221.69" r="2.1" fill="#2c5aa0"/>
<circle cx="311.52" cy="238.14" r="2.1" fill="#2c5aa0"/>
<circle cx="314.79" cy="250.76" r="2.1" fill="#2c5aa0"/>
<circle cx="318.06" cy="259.54" r="2.1" fill="#2c5aa0"/>
<circle cx="321.33" cy="265.57" r="2.1" fill="#2c5aa0"/>
<circle cx="324.6" cy="269.57" r="2.1" fill="#2c5aa0"/>
<circle cx="327.87" cy="271.6" r="2.1" fill="#2c5aa0"/>
<circle cx="331.14" cy="272.7" r="2.1" fill="#2c5aa0"/>
<circle cx="334.41" cy="272.7" r="2.1" fill="#2c5aa0"/>
<circle cx="337.68" cy="272.7" r="2.1" fill="#2c5aa0"/>
<circle cx="340.95" cy="272.7" r="2.1" fill="#2c5aa0"/>
<circle cx="344.22" cy="272.7" r="2.1" fill="#2c5aa0"/>
<circle cx="347.49" cy="272.7" r="2.1" fill="#2c5aa0"/>
<circle cx="350.76" cy="272.7" r="2.1" fill="#2c5aa0"/>
<circle cx="354.03" cy="272.7" r="2.1" fill="#2c5aa0"/>
<circle cx="357.3" cy="272.7" r="2.1" fill="#2c5aa0"/>
<circle cx="360.57" cy="272.7" r="2.1" fill="#2c5aa0"/>
<circle cx="363.84" cy="272.7" r="2.1" fill="#2c5aa0"/>
<circle cx="367.11" cy="272.7" r="2.1" fill="#2c5aa0"/>
<circle cx="370.38" cy="272.7" r="2.1" fill="#2c5aa0"/>
<circle cx="373.65" cy="272.7" r="2.1" fill="#2c5aa0"/>
<circle cx="376.92" cy="272.7" r="2.1" fill="#2c5aa0"/>
<circle cx="380.19" cy="272.7" r="2.1" fill="#2c5aa0"/>
<circle cx="383.46" cy="272.7" r="2.1" fill="#2c5aa0"/>
<circle cx="386.73" cy="272.7" r="2.1" fill="#2c5aa0"/>
<circle cx="390" cy="272.7" r="2.1" fill="#2c5aa0"/>
<circle cx="393.27" cy="272.7" r="2.1" fill="#2c5aa0"/>
<circle cx="396.54" cy="272.7" r="2.1" fill="#2c5aa0"/>
<circle cx="399.81" cy="272.7" r="2.1" fill="#2c5aa0"/>
<circle cx="403.08" cy="272.7" r="2.1" fill="#2c5aa0"/>
<circle cx="406.35" cy="272.7" r="2.1" fill="#2c5aa0"/>
<circle cx="409.62" cy="272.7" r="2.1" fill="#2c5aa0"/>
<line x1="339" y1="184.6" x2="352.6" y2="184.6" stroke="#2c5aa0" stroke-width="1.4"/>
<circle cx="345.8" cy="184.6" r="2.2" fill="#2c5aa0"/>
<text x="360.4" y="188.6" font-size="10.5" fill="#2c5aa0" stroke="#2c5aa0">nSA-Z25</text>
<line x1="339" y1="202.4" x2="352.6" y2="202.4" stroke="#5b9a3c" stroke-width="1.4"/>
<circle cx="345.8" cy="202.4" r="2.2" fill="#5b9a3c"/>
<text x="360.4" y="206.2" font-size="10.4" fill="#5b9a3c" stroke="#5b9a3c">nSA-Z25-DNA</text>
<line x1="484.4" y1="161.8" x2="484.4" y2="272" stroke="#1a1a1a" stroke-width="1.3"/>
<line x1="481" y1="271.4" x2="484.4" y2="271.4" stroke="#1a1a1a" stroke-width="1.2"/>
<text x="479.5" y="274.2" font-size="10" fill="#1a1a1a" stroke="#1a1a1a" text-anchor="end">0</text>
<line x1="481" y1="235.07" x2="484.4" y2="235.07" stroke="#1a1a1a" stroke-width="1.2"/>
<text x="479.5" y="237.87" font-size="10" fill="#1a1a1a" stroke="#1a1a1a" text-anchor="end">100</text>
<line x1="481" y1="198.73" x2="484.4" y2="198.73" stroke="#1a1a1a" stroke-width="1.2"/>
<text x="479.5" y="201.53" font-size="10" fill="#1a1a1a" stroke="#1a1a1a" text-anchor="end">200</text>
<line x1="481" y1="162.4" x2="484.4" y2="162.4" stroke="#1a1a1a" stroke-width="1.2"/>
<text x="479.5" y="165.2" font-size="10" fill="#1a1a1a" stroke="#1a1a1a" text-anchor="end">300</text>
<line x1="483.8" y1="271.4" x2="643.88" y2="271.4" stroke="#1a1a1a" stroke-width="1.3"/>
<line x1="494.9" y1="271.4" x2="494.9" y2="274.8" stroke="#1a1a1a" stroke-width="1.2"/>
<text x="496.1" y="284.6" font-size="10" fill="#1a1a1a" stroke="#1a1a1a" text-anchor="middle">-50</text>
<line x1="552.2" y1="271.4" x2="552.2" y2="274.8" stroke="#1a1a1a" stroke-width="1.2"/>
<text x="552.2" y="284.6" font-size="10" fill="#1a1a1a" stroke="#1a1a1a" text-anchor="middle">0</text>
<line x1="609.5" y1="271.4" x2="609.5" y2="274.8" stroke="#1a1a1a" stroke-width="1.2"/>
<text x="609.5" y="284.6" font-size="10" fill="#1a1a1a" stroke="#1a1a1a" text-anchor="middle">50</text>
<text transform="translate(460.2,213.9) rotate(-90)" x="0" y="0" font-size="11.25" fill="#1a1a1a" stroke="#1a1a1a" text-anchor="middle">Intensity (×10<tspan font-size="7.6" dy="-3.6">4</tspan><tspan dy="3.6">)</tspan></text>
<text x="568.5" y="299" font-size="10.3" fill="#1a1a1a" stroke="#1a1a1a" text-anchor="middle">ζ potentials (mV)</text>
<polyline points="485.5,271.4 489.22,271.4 492.94,271.4 496.66,271.4 500.38,271.4 504.1,271.4 507.82,271.4 511.54,271.4 515.26,271.4 518.98,271.4 522.7,271.4 526.42,271.4 530.14,271.4 533.86,271.4 537.58,271.4 541.3,268.6 545.02,258.68 548.74,243.06 552.46,224.89 556.18,202.37 559.9,189.29 563.62,204.91 567.34,232.89 571.06,253.96 574.78,265.44 578.5,270.09 582.22,271.4 585.94,271.4 589.66,271.4 593.38,271.4 597.1,271.4 600.82,271.4 604.54,271.4 608.26,271.4 611.98,271.4 615.7,271.4 619.42,271.4 623.14,271.4 626.86,271.4 630.58,271.4 634.3,271.4 638.02,271.4 641.74,271.4" fill="none" stroke="#5b9a3c" stroke-width="1.4" stroke-linejoin="round"/>
<circle cx="485.5" cy="271.4" r="1.85" fill="#5b9a3c"/>
<circle cx="489.22" cy="271.4" r="1.85" fill="#5b9a3c"/>
<circle cx="492.94" cy="271.4" r="1.85" fill="#5b9a3c"/>
<circle cx="496.66" cy="271.4" r="1.85" fill="#5b9a3c"/>
<circle cx="500.38" cy="271.4" r="1.85" fill="#5b9a3c"/>
<circle cx="504.1" cy="271.4" r="1.85" fill="#5b9a3c"/>
<circle cx="507.82" cy="271.4" r="1.85" fill="#5b9a3c"/>
<circle cx="511.54" cy="271.4" r="1.85" fill="#5b9a3c"/>
<circle cx="515.26" cy="271.4" r="1.85" fill="#5b9a3c"/>
<circle cx="518.98" cy="271.4" r="1.85" fill="#5b9a3c"/>
<circle cx="522.7" cy="271.4" r="1.85" fill="#5b9a3c"/>
<circle cx="526.42" cy="271.4" r="1.85" fill="#5b9a3c"/>
<circle cx="530.14" cy="271.4" r="1.85" fill="#5b9a3c"/>
<circle cx="533.86" cy="271.4" r="1.85" fill="#5b9a3c"/>
<circle cx="537.58" cy="271.4" r="1.85" fill="#5b9a3c"/>
<circle cx="541.3" cy="268.6" r="1.85" fill="#5b9a3c"/>
<circle cx="545.02" cy="258.68" r="1.85" fill="#5b9a3c"/>
<circle cx="548.74" cy="243.06" r="1.85" fill="#5b9a3c"/>
<circle cx="552.46" cy="224.89" r="1.85" fill="#5b9a3c"/>
<circle cx="556.18" cy="202.37" r="1.85" fill="#5b9a3c"/>
<circle cx="559.9" cy="189.29" r="1.85" fill="#5b9a3c"/>
<circle cx="563.62" cy="204.91" r="1.85" fill="#5b9a3c"/>
<circle cx="567.34" cy="232.89" r="1.85" fill="#5b9a3c"/>
<circle cx="571.06" cy="253.96" r="1.85" fill="#5b9a3c"/>
<circle cx="574.78" cy="265.44" r="1.85" fill="#5b9a3c"/>
<circle cx="578.5" cy="270.09" r="1.85" fill="#5b9a3c"/>
<circle cx="582.22" cy="271.4" r="1.85" fill="#5b9a3c"/>
<circle cx="585.94" cy="271.4" r="1.85" fill="#5b9a3c"/>
<circle cx="589.66" cy="271.4" r="1.85" fill="#5b9a3c"/>
<circle cx="593.38" cy="271.4" r="1.85" fill="#5b9a3c"/>
<circle cx="597.1" cy="271.4" r="1.85" fill="#5b9a3c"/>
<circle cx="600.82" cy="271.4" r="1.85" fill="#5b9a3c"/>
<circle cx="604.54" cy="271.4" r="1.85" fill="#5b9a3c"/>
<circle cx="608.26" cy="271.4" r="1.85" fill="#5b9a3c"/>
<circle cx="611.98" cy="271.4" r="1.85" fill="#5b9a3c"/>
<circle cx="615.7" cy="271.4" r="1.85" fill="#5b9a3c"/>
<circle cx="619.42" cy="271.4" r="1.85" fill="#5b9a3c"/>
<circle cx="623.14" cy="271.4" r="1.85" fill="#5b9a3c"/>
<circle cx="626.86" cy="271.4" r="1.85" fill="#5b9a3c"/>
<circle cx="630.58" cy="271.4" r="1.85" fill="#5b9a3c"/>
<circle cx="634.3" cy="271.4" r="1.85" fill="#5b9a3c"/>
<circle cx="638.02" cy="271.4" r="1.85" fill="#5b9a3c"/>
<circle cx="641.74" cy="271.4" r="1.85" fill="#5b9a3c"/>
<polyline points="487.1,271.4 490.79,271.4 494.48,271.4 498.17,271.4 501.86,271.4 505.55,271.4 509.24,271.4 512.93,271.4 516.62,271.4 520.31,271.4 524,271.4 527.69,271.4 531.38,271.4 535.07,271.4 538.76,271.4 542.45,271.4 546.14,267.51 549.83,253.96 553.52,221.62 557.21,190.74 560.9,193.65 564.59,228.89 568.28,256.5 571.97,267.51 575.66,271.4 579.35,271.4 583.04,271.4 586.73,271.4 590.42,271.4 594.11,271.4 597.8,271.4 601.49,271.4 605.18,271.4 608.87,271.4 612.56,271.4 616.25,271.4 619.94,271.4 623.63,271.4 627.32,271.4 631.01,271.4 634.7,271.4 638.39,271.4 642.08,271.4" fill="none" stroke="#2c5aa0" stroke-width="1.4" stroke-linejoin="round"/>
<circle cx="487.1" cy="271.4" r="1.85" fill="#2c5aa0"/>
<circle cx="490.79" cy="271.4" r="1.85" fill="#2c5aa0"/>
<circle cx="494.48" cy="271.4" r="1.85" fill="#2c5aa0"/>
<circle cx="498.17" cy="271.4" r="1.85" fill="#2c5aa0"/>
<circle cx="501.86" cy="271.4" r="1.85" fill="#2c5aa0"/>
<circle cx="505.55" cy="271.4" r="1.85" fill="#2c5aa0"/>
<circle cx="509.24" cy="271.4" r="1.85" fill="#2c5aa0"/>
<circle cx="512.93" cy="271.4" r="1.85" fill="#2c5aa0"/>
<circle cx="516.62" cy="271.4" r="1.85" fill="#2c5aa0"/>
<circle cx="520.31" cy="271.4" r="1.85" fill="#2c5aa0"/>
<circle cx="524" cy="271.4" r="1.85" fill="#2c5aa0"/>
<circle cx="527.69" cy="271.4" r="1.85" fill="#2c5aa0"/>
<circle cx="531.38" cy="271.4" r="1.85" fill="#2c5aa0"/>
<circle cx="535.07" cy="271.4" r="1.85" fill="#2c5aa0"/>
<circle cx="538.76" cy="271.4" r="1.85" fill="#2c5aa0"/>
<circle cx="542.45" cy="271.4" r="1.85" fill="#2c5aa0"/>
<circle cx="546.14" cy="267.51" r="1.85" fill="#2c5aa0"/>
<circle cx="549.83" cy="253.96" r="1.85" fill="#2c5aa0"/>
<circle cx="553.52" cy="221.62" r="1.85" fill="#2c5aa0"/>
<circle cx="557.21" cy="190.74" r="1.85" fill="#2c5aa0"/>
<circle cx="560.9" cy="193.65" r="1.85" fill="#2c5aa0"/>
<circle cx="564.59" cy="228.89" r="1.85" fill="#2c5aa0"/>
<circle cx="568.28" cy="256.5" r="1.85" fill="#2c5aa0"/>
<circle cx="571.97" cy="267.51" r="1.85" fill="#2c5aa0"/>
<circle cx="575.66" cy="271.4" r="1.85" fill="#2c5aa0"/>
<circle cx="579.35" cy="271.4" r="1.85" fill="#2c5aa0"/>
<circle cx="583.04" cy="271.4" r="1.85" fill="#2c5aa0"/>
<circle cx="586.73" cy="271.4" r="1.85" fill="#2c5aa0"/>
<circle cx="590.42" cy="271.4" r="1.85" fill="#2c5aa0"/>
<circle cx="594.11" cy="271.4" r="1.85" fill="#2c5aa0"/>
<circle cx="597.8" cy="271.4" r="1.85" fill="#2c5aa0"/>
<circle cx="601.49" cy="271.4" r="1.85" fill="#2c5aa0"/>
<circle cx="605.18" cy="271.4" r="1.85" fill="#2c5aa0"/>
<circle cx="608.87" cy="271.4" r="1.85" fill="#2c5aa0"/>
<circle cx="612.56" cy="271.4" r="1.85" fill="#2c5aa0"/>
<circle cx="616.25" cy="271.4" r="1.85" fill="#2c5aa0"/>
<circle cx="619.94" cy="271.4" r="1.85" fill="#2c5aa0"/>
<circle cx="623.63" cy="271.4" r="1.85" fill="#2c5aa0"/>
<circle cx="627.32" cy="271.4" r="1.85" fill="#2c5aa0"/>
<circle cx="631.01" cy="271.4" r="1.85" fill="#2c5aa0"/>
<circle cx="634.7" cy="271.4" r="1.85" fill="#2c5aa0"/>
<circle cx="638.39" cy="271.4" r="1.85" fill="#2c5aa0"/>
<circle cx="642.08" cy="271.4" r="1.85" fill="#2c5aa0"/>
<line x1="580.8" y1="184.6" x2="592.2" y2="184.6" stroke="#2c5aa0" stroke-width="1.3"/>
<circle cx="586.5" cy="184.6" r="1.9" fill="#2c5aa0"/>
<text x="596.6" y="188.4" font-size="10.5" fill="#2c5aa0" stroke="#2c5aa0">nSA-Z25</text>
<line x1="580.8" y1="202.1" x2="592.2" y2="202.1" stroke="#5b9a3c" stroke-width="1.3"/>
<circle cx="586.5" cy="202.1" r="1.9" fill="#5b9a3c"/>
<text x="596.6" y="205.9" font-size="10.4" fill="#5b9a3c" stroke="#5b9a3c">nSA-Z25-DNA</text>
<line x1="317.8" y1="318.6" x2="317.8" y2="443.5" stroke="#1a1a1a" stroke-width="1.3"/>
<line x1="314" y1="442.9" x2="317.8" y2="442.9" stroke="#1a1a1a" stroke-width="1.2"/>
<text x="311.9" y="445.9" font-size="10.1" fill="#1a1a1a" stroke="#1a1a1a" text-anchor="end">0</text>
<line x1="314" y1="422.28" x2="317.8" y2="422.28" stroke="#1a1a1a" stroke-width="1.2"/>
<text x="311.9" y="425.28" font-size="10.1" fill="#1a1a1a" stroke="#1a1a1a" text-anchor="end">20</text>
<line x1="314" y1="401.67" x2="317.8" y2="401.67" stroke="#1a1a1a" stroke-width="1.2"/>
<text x="311.9" y="404.67" font-size="10.1" fill="#1a1a1a" stroke="#1a1a1a" text-anchor="end">40</text>
<line x1="314" y1="381.05" x2="317.8" y2="381.05" stroke="#1a1a1a" stroke-width="1.2"/>
<text x="311.9" y="384.05" font-size="10.1" fill="#1a1a1a" stroke="#1a1a1a" text-anchor="end">60</text>
<line x1="314" y1="360.43" x2="317.8" y2="360.43" stroke="#1a1a1a" stroke-width="1.2"/>
<text x="311.9" y="363.43" font-size="10.1" fill="#1a1a1a" stroke="#1a1a1a" text-anchor="end">80</text>
<line x1="314" y1="339.82" x2="317.8" y2="339.82" stroke="#1a1a1a" stroke-width="1.2"/>
<text x="311.9" y="342.82" font-size="10.1" fill="#1a1a1a" stroke="#1a1a1a" text-anchor="end">100</text>
<line x1="314" y1="319.2" x2="317.8" y2="319.2" stroke="#1a1a1a" stroke-width="1.2"/>
<text x="311.9" y="322.2" font-size="10.1" fill="#1a1a1a" stroke="#1a1a1a" text-anchor="end">120</text>
<line x1="317.2" y1="442.9" x2="466" y2="442.9" stroke="#1a1a1a" stroke-width="1.3"/>
<line x1="340.4" y1="442.9" x2="340.4" y2="446.9" stroke="#1a1a1a" stroke-width="1.2"/>
<text x="340.4" y="456.4" font-size="10.3" fill="#1a1a1a" stroke="#1a1a1a" text-anchor="middle">10 nM</text>
<line x1="374.5" y1="442.9" x2="374.5" y2="446.9" stroke="#1a1a1a" stroke-width="1.2"/>
<text x="374.5" y="456.4" font-size="10.3" fill="#1a1a1a" stroke="#1a1a1a" text-anchor="middle">1 nM</text>
<line x1="408.8" y1="442.9" x2="408.8" y2="446.9" stroke="#1a1a1a" stroke-width="1.2"/>
<text x="408.8" y="456.4" font-size="10.3" fill="#1a1a1a" stroke="#1a1a1a" text-anchor="middle">1 nM</text>
<line x1="442.9" y1="442.9" x2="442.9" y2="446.9" stroke="#1a1a1a" stroke-width="1.2"/>
<text x="442.9" y="456.4" font-size="10.3" fill="#1a1a1a" stroke="#1a1a1a" text-anchor="middle">100 pM</text>
<text x="391.6" y="467.8" font-size="10.4" fill="#1a1a1a" stroke="#1a1a1a" text-anchor="middle">DNA conc.</text>
<text transform="translate(290.6,381.2) rotate(-90)" x="0" y="0" font-size="10.5" fill="#1a1a1a" stroke="#1a1a1a" text-anchor="middle">Enrichment Efficiency (%)</text>
<line x1="328.9" y1="344" x2="351.8" y2="344" stroke="#6aa84f" stroke-width="2"/>
<circle cx="340.3" cy="336" r="3.2" fill="#b3dd80"/>
<circle cx="340.3" cy="351.6" r="3.2" fill="#b3dd80"/>
<text x="340.8" y="368.2" font-size="10.4" fill="#1a1a1a" stroke="#1a1a1a" text-anchor="middle">95.76%</text>
<line x1="363.4" y1="420.6" x2="386.1" y2="420.6" stroke="#c08a40" stroke-width="2"/>
<circle cx="374.4" cy="416.9" r="3.4" fill="#e6b070"/>
<circle cx="374.4" cy="424.2" r="3.4" fill="#e6b070"/>
<text x="357.9" y="412.6" font-size="10.3" fill="#1a1a1a" stroke="#1a1a1a" text-anchor="middle">21.14%</text>
<circle cx="408.8" cy="424.4" r="3.4" fill="#e57a80"/>
<circle cx="408.8" cy="430.4" r="3.4" fill="#e57a80"/>
<line x1="397.4" y1="427.6" x2="420.1" y2="427.6" stroke="#c8505a" stroke-width="2"/>
<text x="408.4" y="407.4" font-size="10.1" fill="#1a1a1a" stroke="#1a1a1a" text-anchor="middle">14.28%</text>
<text x="408.4" y="418.4" font-size="10.4" fill="#1a1a1a" stroke="#1a1a1a" text-anchor="middle">(Triton)</text>
<clipPath id="fc"><rect x="420" y="400" width="60" height="42"/></clipPath>
<circle cx="438" cy="441" r="3.2" fill="#e890e8" clip-path="url(#fc)"/>
<circle cx="448" cy="441" r="3.2" fill="#e890e8" clip-path="url(#fc)"/>
<line x1="431.5" y1="441.6" x2="454.3" y2="441.6" stroke="#6a1a70" stroke-width="2"/>
<line x1="317.2" y1="442.9" x2="466" y2="442.9" stroke="#1a1a1a" stroke-width="1.3"/>
<text x="443.2" y="435" font-size="10.2" fill="#1a1a1a" stroke="#1a1a1a" text-anchor="middle">1.56%</text>
<line x1="550.1" y1="318.6" x2="550.1" y2="443.9" stroke="#1a1a1a" stroke-width="1.3"/>
<line x1="546.7" y1="443.3" x2="550.1" y2="443.3" stroke="#1a1a1a" stroke-width="1.2"/>
<text x="544.8" y="446.3" font-size="10.1" fill="#1a1a1a" stroke="#1a1a1a" text-anchor="end">0</text>
<line x1="546.7" y1="422.62" x2="550.1" y2="422.62" stroke="#1a1a1a" stroke-width="1.2"/>
<text x="544.8" y="425.62" font-size="10.1" fill="#1a1a1a" stroke="#1a1a1a" text-anchor="end">20</text>
<line x1="546.7" y1="401.93" x2="550.1" y2="401.93" stroke="#1a1a1a" stroke-width="1.2"/>
<text x="544.8" y="404.93" font-size="10.1" fill="#1a1a1a" stroke="#1a1a1a" text-anchor="end">40</text>
<line x1="546.7" y1="381.25" x2="550.1" y2="381.25" stroke="#1a1a1a" stroke-width="1.2"/>
<text x="544.8" y="384.25" font-size="10.1" fill="#1a1a1a" stroke="#1a1a1a" text-anchor="end">60</text>
<line x1="546.7" y1="360.57" x2="550.1" y2="360.57" stroke="#1a1a1a" stroke-width="1.2"/>
<text x="544.8" y="363.57" font-size="10.1" fill="#1a1a1a" stroke="#1a1a1a" text-anchor="end">80</text>
<line x1="546.7" y1="339.88" x2="550.1" y2="339.88" stroke="#1a1a1a" stroke-width="1.2"/>
<text x="544.8" y="342.88" font-size="10.1" fill="#1a1a1a" stroke="#1a1a1a" text-anchor="end">100</text>
<line x1="546.7" y1="319.2" x2="550.1" y2="319.2" stroke="#1a1a1a" stroke-width="1.2"/>
<text x="544.8" y="322.2" font-size="10.1" fill="#1a1a1a" stroke="#1a1a1a" text-anchor="end">120</text>
<line x1="549.5" y1="443.3" x2="644.4" y2="443.3" stroke="#1a1a1a" stroke-width="1.3"/>
<line x1="577.2" y1="443.3" x2="577.2" y2="446.9" stroke="#1a1a1a" stroke-width="1.2"/>
<text x="577.7" y="456.6" font-size="10.5" fill="#1a1a1a" stroke="#1a1a1a" text-anchor="middle">PBS</text>
<line x1="617.2" y1="443.3" x2="617.2" y2="446.9" stroke="#1a1a1a" stroke-width="1.2"/>
<text x="617.7" y="456.6" font-size="10.5" fill="#1a1a1a" stroke="#1a1a1a" text-anchor="middle">Lysate</text>
<text transform="translate(521,380.2) rotate(-90)" x="0" y="0" font-size="10.4" fill="#1a1a1a" stroke="#1a1a1a" text-anchor="middle">Enrichment Efficiency (%)</text>
<circle cx="576.9" cy="361.2" r="3" fill="#7fa6da"/>
<circle cx="576.9" cy="370.4" r="3" fill="#7fa6da"/>
<line x1="563.6" y1="365.8" x2="590.4" y2="365.8" stroke="#7ba3d9" stroke-width="1.6"/>
<text x="576.8" y="387.9" font-size="10.2" fill="#1a1a1a" stroke="#1a1a1a" text-anchor="middle">75.06%</text>
<circle cx="617.1" cy="354" r="3" fill="#a884d8"/>
<circle cx="617.1" cy="384.8" r="3" fill="#a884d8"/>
<line x1="603.8" y1="369.4" x2="630.6" y2="369.4" stroke="#a57fd8" stroke-width="1.6"/>
<text x="617.2" y="403.8" font-size="10.3" fill="#1a1a1a" stroke="#1a1a1a" text-anchor="middle">71.56%</text>
<path d="M29.2,324.2 L29.2,451 Q29.2,461 39.2,461 L217.6,461 Q227.6,461 227.6,451 L227.6,324.2 Z" fill="#d2e1e8" stroke="#9fb0b8" stroke-width="0.8"/>
<rect x="34.8" y="324.8" width="186.6" height="17" fill="#f2f6fc"/>
<path d="M34.8,342 L221.4,342 L221.4,451 Q221.4,454.6 217.8,454.6 L38.4,454.6 Q34.8,454.6 34.8,451 Z" fill="#fdebd9"/>
<path d="M34.8,451 Q34.8,454.6 38.4,454.6 L217.8,454.6 Q221.4,454.6 221.4,451" fill="none" stroke="#d4ac48" stroke-width="0.8"/>
<line x1="34.9" y1="325" x2="34.9" y2="451" stroke="#8d9ca4" stroke-width="0.7"/>
<line x1="221.3" y1="325" x2="221.3" y2="451" stroke="#8d9ca4" stroke-width="0.7"/>
<line x1="34.8" y1="342" x2="221.4" y2="342" stroke="#e2b322" stroke-width="1.5"/>
<line x1="29" y1="324.6" x2="227.8" y2="324.6" stroke="#b4b4b4" stroke-width="1.4"/>
<text x="218" y="339" font-size="10.3" fill="#7e2b64" stroke="#7e2b64" text-anchor="end" font-weight="bold">Cell or Tissue Lysate</text>
<text x="38" y="372.8" font-size="10.3" fill="#231f20" stroke="#231f20">DNA barcode</text>
<text x="107.6" y="372.8" font-size="10.6" fill="#231f20" stroke="#231f20">FAM</text>
<text x="44.8" y="429.7" font-size="10.4" fill="#231f20" stroke="#231f20">anti-FITC beads</text>
<text x="153" y="449.2" font-size="10.4" fill="#231f20" stroke="#231f20">other biologics</text>
<polyline points="45.2,352.8 45.44,352.91 45.72,353.04 46.04,353.2 46.39,353.37 46.78,353.57 47.2,353.77 47.64,353.99 48.1,354.21 48.58,354.43 49.06,354.65 49.56,354.87 50.06,355.09 50.55,355.29 51.05,355.48 51.53,355.65 52,355.8 52.46,355.94 52.93,356.08 53.4,356.22 53.87,356.36 54.34,356.49 54.82,356.61 55.31,356.73 55.8,356.84 56.3,356.95 56.8,357.04 57.31,357.12 57.83,357.19 58.36,357.24 58.9,357.28 59.44,357.3 60,357.3 60.57,357.29 61.15,357.26 61.75,357.21 62.36,357.15 62.98,357.08 63.6,357 64.24,356.9 64.88,356.79 65.52,356.68 66.16,356.55 66.81,356.41 67.45,356.26 68.1,356.11 68.74,355.94 69.37,355.78 70,355.6 70.63,355.41 71.26,355.19 71.9,354.96 72.55,354.71 73.19,354.44 73.84,354.17 74.48,353.89 75.12,353.6 75.76,353.31 76.4,353.03 77.02,352.76 77.64,352.49 78.25,352.24 78.85,352.01 79.43,351.79 80,351.6 80.55,351.43 81.1,351.26 81.62,351.1 82.14,350.96 82.65,350.82 83.15,350.69 83.64,350.57 84.12,350.46 84.61,350.35 85.09,350.26 85.57,350.18 86.05,350.1 86.53,350.04 87.01,349.98 87.5,349.94 88,349.9 88.5,349.88 89.01,349.86 89.53,349.86 90.05,349.88 90.57,349.9 91.09,349.93 91.61,349.97 92.12,350.02 92.64,350.07 93.15,350.14 93.65,350.2 94.14,350.28 94.62,350.35 95.1,350.43 95.55,350.52 96,350.6 96.43,350.69 96.86,350.78 97.27,350.89 97.67,350.99 98.07,351.11 98.46,351.23 98.84,351.35 99.21,351.48 99.58,351.61 99.94,351.75 100.3,351.89 100.65,352.03 100.99,352.17 101.33,352.31 101.67,352.46 102,352.6 102.33,352.75 102.67,352.91 103.01,353.09 103.36,353.27 103.7,353.46 104.03,353.65 104.36,353.84 104.67,354.03 104.98,354.21 105.27,354.39 105.55,354.56 105.81,354.72 106.04,354.86 106.25,355 106.44,355.11 106.6,355.2" fill="none" stroke="#333333" stroke-width="1" stroke-linejoin="round"/>
<line x1="46.55" y1="353.45" x2="44.82" y2="356.95" stroke="#333333" stroke-width="1"/>
<line x1="49.26" y1="354.74" x2="47.68" y2="358.31" stroke="#333333" stroke-width="1"/>
<line x1="52.06" y1="355.82" x2="50.92" y2="359.55" stroke="#333333" stroke-width="1"/>
<line x1="54.94" y1="356.64" x2="54.01" y2="360.43" stroke="#333333" stroke-width="1"/>
<line x1="57.89" y1="357.19" x2="57.5" y2="361.07" stroke="#333333" stroke-width="1"/>
<line x1="60.88" y1="357.27" x2="61.08" y2="361.17" stroke="#333333" stroke-width="1"/>
<line x1="63.87" y1="356.96" x2="64.45" y2="360.81" stroke="#333333" stroke-width="1"/>
<line x1="66.81" y1="356.41" x2="67.68" y2="360.21" stroke="#333333" stroke-width="1"/>
<line x1="69.72" y1="355.68" x2="70.77" y2="359.43" stroke="#333333" stroke-width="1"/>
<line x1="72.56" y1="354.7" x2="74.04" y2="358.31" stroke="#333333" stroke-width="1"/>
<line x1="75.31" y1="353.52" x2="76.91" y2="357.08" stroke="#333333" stroke-width="1"/>
<line x1="78.06" y1="352.32" x2="79.56" y2="355.92" stroke="#333333" stroke-width="1"/>
<line x1="80.89" y1="351.32" x2="82.03" y2="355.05" stroke="#333333" stroke-width="1"/>
<line x1="83.79" y1="350.53" x2="84.66" y2="354.33" stroke="#333333" stroke-width="1"/>
<line x1="86.74" y1="350.01" x2="87.18" y2="353.89" stroke="#333333" stroke-width="1"/>
<line x1="89.73" y1="349.87" x2="89.65" y2="353.77" stroke="#333333" stroke-width="1"/>
<line x1="92.73" y1="350.09" x2="92.25" y2="353.96" stroke="#333333" stroke-width="1"/>
<line x1="95.69" y1="350.54" x2="94.97" y2="354.37" stroke="#333333" stroke-width="1"/>
<line x1="98.6" y1="351.27" x2="97.39" y2="354.98" stroke="#333333" stroke-width="1"/>
<line x1="101.4" y1="352.34" x2="99.87" y2="355.93" stroke="#333333" stroke-width="1"/>
<line x1="104.08" y1="353.68" x2="102.12" y2="357.05" stroke="#333333" stroke-width="1"/>
<polygon points="110.9,352.6 112.31,355.86 115.85,356.19 113.18,358.54 113.96,362.01 110.9,360.2 107.84,362.01 108.62,358.54 105.95,356.19 109.49,355.86" fill="#2af02a"/>
<polyline points="102.6,383.2 102.78,383.32 102.99,383.47 103.24,383.65 103.51,383.85 103.8,384.07 104.12,384.3 104.45,384.54 104.8,384.79 105.16,385.04 105.53,385.29 105.91,385.54 106.29,385.78 106.68,386.01 107.06,386.23 107.43,386.43 107.8,386.6 108.17,386.76 108.54,386.92 108.93,387.08 109.32,387.23 109.71,387.37 110.11,387.52 110.52,387.65 110.92,387.78 111.34,387.89 111.75,388 112.16,388.1 112.57,388.18 112.98,388.26 113.39,388.32 113.8,388.37 114.2,388.4 114.6,388.41 115,388.41 115.4,388.39 115.8,388.35 116.2,388.3 116.6,388.24 117,388.17 117.4,388.09 117.8,388 118.2,387.91 118.6,387.82 119,387.73 119.4,387.64 119.8,387.55 120.2,387.47 120.6,387.4 121,387.33 121.4,387.25 121.8,387.16 122.2,387.07 122.6,386.98 123,386.89 123.4,386.79 123.8,386.7 124.2,386.61 124.6,386.53 125,386.45 125.4,386.38 125.8,386.32 126.2,386.27 126.6,386.23 127,386.2 127.4,386.18 127.81,386.17 128.22,386.17 128.63,386.17 129.05,386.18 129.46,386.2 129.88,386.22 130.29,386.25 130.7,386.29 131.1,386.33 131.5,386.39 131.9,386.45 132.29,386.53 132.67,386.61 133.04,386.7 133.4,386.8 133.75,386.91 134.11,387.04 134.45,387.19 134.8,387.35 135.13,387.51 135.47,387.69 135.79,387.87 136.11,388.06 136.43,388.26 136.73,388.45 137.03,388.65 137.32,388.85 137.61,389.04 137.88,389.23 138.14,389.42 138.4,389.6 138.65,389.78 138.89,389.97 139.13,390.16 139.36,390.37 139.59,390.57 139.8,390.77 140.01,390.98 140.21,391.18 140.4,391.37 140.58,391.56 140.75,391.73 140.91,391.9 141.05,392.05 141.18,392.18 141.3,392.3 141.4,392.4" fill="none" stroke="#1f2d66" stroke-width="1" stroke-linejoin="round"/>
<line x1="103.41" y1="383.78" x2="101.93" y2="385.8" stroke="#6a9ad0" stroke-width="0.8"/>
<line x1="105.04" y1="384.95" x2="103.6" y2="387" stroke="#6a9ad0" stroke-width="0.8"/>
<line x1="106.72" y1="386.04" x2="105.48" y2="388.21" stroke="#6a9ad0" stroke-width="0.8"/>
<line x1="108.51" y1="386.91" x2="107.54" y2="389.21" stroke="#6a9ad0" stroke-width="0.8"/>
<line x1="110.39" y1="387.61" x2="109.6" y2="389.98" stroke="#6a9ad0" stroke-width="0.8"/>
<line x1="112.32" y1="388.13" x2="111.8" y2="390.58" stroke="#6a9ad0" stroke-width="0.8"/>
<line x1="114.29" y1="388.4" x2="114.2" y2="390.9" stroke="#6a9ad0" stroke-width="0.8"/>
<line x1="116.29" y1="388.29" x2="116.67" y2="390.76" stroke="#6a9ad0" stroke-width="0.8"/>
<line x1="118.25" y1="387.9" x2="118.81" y2="390.34" stroke="#6a9ad0" stroke-width="0.8"/>
<line x1="120.2" y1="387.47" x2="120.65" y2="389.93" stroke="#6a9ad0" stroke-width="0.8"/>
<line x1="122.16" y1="387.08" x2="122.71" y2="389.52" stroke="#6a9ad0" stroke-width="0.8"/>
<line x1="124.11" y1="386.63" x2="124.65" y2="389.07" stroke="#6a9ad0" stroke-width="0.8"/>
<line x1="126.08" y1="386.28" x2="126.4" y2="388.76" stroke="#6a9ad0" stroke-width="0.8"/>
<line x1="128.08" y1="386.17" x2="128.1" y2="388.67" stroke="#6a9ad0" stroke-width="0.8"/>
<line x1="130.08" y1="386.23" x2="129.89" y2="388.73" stroke="#6a9ad0" stroke-width="0.8"/>
<line x1="132.06" y1="386.48" x2="131.6" y2="388.94" stroke="#6a9ad0" stroke-width="0.8"/>
<line x1="133.99" y1="387" x2="133.12" y2="389.35" stroke="#6a9ad0" stroke-width="0.8"/>
<line x1="135.79" y1="387.87" x2="134.56" y2="390.05" stroke="#6a9ad0" stroke-width="0.8"/>
<line x1="137.47" y1="388.95" x2="136.05" y2="391.01" stroke="#6a9ad0" stroke-width="0.8"/>
<line x1="139.08" y1="390.13" x2="137.5" y2="392.06" stroke="#6a9ad0" stroke-width="0.8"/>
<line x1="140.53" y1="391.5" x2="138.74" y2="393.24" stroke="#6a9ad0" stroke-width="0.8"/>
<polygon points="142.4,390.8 143.22,392.67 145.25,392.87 143.73,394.23 144.16,396.23 142.4,395.2 140.64,396.23 141.07,394.23 139.55,392.87 141.58,392.67" fill="#44ee44"/>
<line x1="149.48" y1="402.97" x2="148.79" y2="399.03" stroke="#8c3038" stroke-width="2.3" stroke-linecap="butt"/>
<line x1="148.79" y1="399.03" x2="144.69" y2="395.83" stroke="#8c3038" stroke-width="2.3" stroke-linecap="butt"/>
<line x1="148.79" y1="399.03" x2="151.54" y2="394.62" stroke="#8c3038" stroke-width="2.3" stroke-linecap="butt"/>
<line x1="149.48" y1="402.97" x2="148.79" y2="399.03" stroke="#f2d8d0" stroke-width="0.6"/>
<line x1="148.79" y1="399.03" x2="144.69" y2="395.83" stroke="#f2d8d0" stroke-width="0.6"/>
<line x1="148.79" y1="399.03" x2="151.54" y2="394.62" stroke="#f2d8d0" stroke-width="0.6"/>
<line x1="147.6" y1="411.45" x2="145.42" y2="414.56" stroke="#8c3038" stroke-width="2.3" stroke-linecap="butt"/>
<line x1="145.42" y1="414.56" x2="146.03" y2="419.53" stroke="#8c3038" stroke-width="2.3" stroke-linecap="butt"/>
<line x1="145.42" y1="414.56" x2="140.55" y2="415.69" stroke="#8c3038" stroke-width="2.3" stroke-linecap="butt"/>
<line x1="147.6" y1="411.45" x2="145.42" y2="414.56" stroke="#f2d8d0" stroke-width="0.6"/>
<line x1="145.42" y1="414.56" x2="146.03" y2="419.53" stroke="#f2d8d0" stroke-width="0.6"/>
<line x1="145.42" y1="414.56" x2="140.55" y2="415.69" stroke="#f2d8d0" stroke-width="0.6"/>
<circle cx="150.3" cy="407.6" r="5.5" fill="#0b4f78"/>
<circle cx="150.1" cy="407.4" r="4.8" fill="#12618f"/>
<circle cx="147.83" cy="407.88" r="1.21" fill="#3f86b0"/>
<line x1="61.8" y1="412.1" x2="57.2" y2="412.1" stroke="#8c3038" stroke-width="2.3" stroke-linecap="butt"/>
<line x1="57.2" y1="412.1" x2="53.04" y2="415.85" stroke="#8c3038" stroke-width="2.3" stroke-linecap="butt"/>
<line x1="57.2" y1="412.1" x2="53.04" y2="408.35" stroke="#8c3038" stroke-width="2.3" stroke-linecap="butt"/>
<line x1="61.8" y1="412.1" x2="57.2" y2="412.1" stroke="#f2d8d0" stroke-width="0.6"/>
<line x1="57.2" y1="412.1" x2="53.04" y2="415.85" stroke="#f2d8d0" stroke-width="0.6"/>
<line x1="57.2" y1="412.1" x2="53.04" y2="408.35" stroke="#f2d8d0" stroke-width="0.6"/>
<line x1="69.74" y1="408.05" x2="72.44" y2="404.33" stroke="#8c3038" stroke-width="2.3" stroke-linecap="butt"/>
<line x1="72.44" y1="404.33" x2="71.86" y2="398.76" stroke="#8c3038" stroke-width="2.3" stroke-linecap="butt"/>
<line x1="72.44" y1="404.33" x2="77.92" y2="403.17" stroke="#8c3038" stroke-width="2.3" stroke-linecap="butt"/>
<line x1="69.74" y1="408.05" x2="72.44" y2="404.33" stroke="#f2d8d0" stroke-width="0.6"/>
<line x1="72.44" y1="404.33" x2="71.86" y2="398.76" stroke="#f2d8d0" stroke-width="0.6"/>
<line x1="72.44" y1="404.33" x2="77.92" y2="403.17" stroke="#f2d8d0" stroke-width="0.6"/>
<circle cx="66.8" cy="412.1" r="5.8" fill="#0b4f78"/>
<circle cx="66.6" cy="411.9" r="5.1" fill="#12618f"/>
<circle cx="64.19" cy="412.39" r="1.28" fill="#3f86b0"/>
<line x1="83.94" y1="437.45" x2="81.6" y2="434.45" stroke="#8c3038" stroke-width="2.3" stroke-linecap="butt"/>
<line x1="81.6" y1="434.45" x2="77.07" y2="433.65" stroke="#8c3038" stroke-width="2.3" stroke-linecap="butt"/>
<line x1="81.6" y1="434.45" x2="81.92" y2="429.86" stroke="#8c3038" stroke-width="2.3" stroke-linecap="butt"/>
<line x1="83.94" y1="437.45" x2="81.6" y2="434.45" stroke="#f2d8d0" stroke-width="0.6"/>
<line x1="81.6" y1="434.45" x2="77.07" y2="433.65" stroke="#f2d8d0" stroke-width="0.6"/>
<line x1="81.6" y1="434.45" x2="81.92" y2="429.86" stroke="#f2d8d0" stroke-width="0.6"/>
<circle cx="86.4" cy="440.6" r="4.8" fill="#0b4f78"/>
<circle cx="86.2" cy="440.4" r="4.1" fill="#12618f"/>
<circle cx="84.24" cy="440.84" r="1.06" fill="#3f86b0"/>
<line x1="133.8" y1="441.58" x2="131.23" y2="438.52" stroke="#8c3038" stroke-width="2.3" stroke-linecap="butt"/>
<line x1="131.23" y1="438.52" x2="126.28" y2="437.82" stroke="#8c3038" stroke-width="2.3" stroke-linecap="butt"/>
<line x1="131.23" y1="438.52" x2="131.4" y2="433.52" stroke="#8c3038" stroke-width="2.3" stroke-linecap="butt"/>
<line x1="133.8" y1="441.58" x2="131.23" y2="438.52" stroke="#f2d8d0" stroke-width="0.6"/>
<line x1="131.23" y1="438.52" x2="126.28" y2="437.82" stroke="#f2d8d0" stroke-width="0.6"/>
<line x1="131.23" y1="438.52" x2="131.4" y2="433.52" stroke="#f2d8d0" stroke-width="0.6"/>
<line x1="140.64" y1="444.07" x2="144.58" y2="443.38" stroke="#8c3038" stroke-width="2.3" stroke-linecap="butt"/>
<line x1="144.58" y1="443.38" x2="147.65" y2="439.44" stroke="#8c3038" stroke-width="2.3" stroke-linecap="butt"/>
<line x1="144.58" y1="443.38" x2="148.82" y2="446.03" stroke="#8c3038" stroke-width="2.3" stroke-linecap="butt"/>
<line x1="140.64" y1="444.07" x2="144.58" y2="443.38" stroke="#f2d8d0" stroke-width="0.6"/>
<line x1="144.58" y1="443.38" x2="147.65" y2="439.44" stroke="#f2d8d0" stroke-width="0.6"/>
<line x1="144.58" y1="443.38" x2="148.82" y2="446.03" stroke="#f2d8d0" stroke-width="0.6"/>
<circle cx="136.5" cy="444.8" r="5" fill="#0b4f78"/>
<circle cx="136.3" cy="444.6" r="4.3" fill="#12618f"/>
<circle cx="134.25" cy="445.05" r="1.1" fill="#3f86b0"/>
<polygon points="150.3,438.7 151.06,440.55 153.06,440.7 151.54,442 152,443.95 150.3,442.9 148.6,443.95 149.06,442 147.54,440.7 149.54,440.55" fill="#44ee44"/>
<polyline points="152.3,440.6 152.43,440.52 152.59,440.44 152.77,440.34 152.97,440.23 153.19,440.11 153.42,439.98 153.67,439.84 153.93,439.7 154.19,439.55 154.46,439.39 154.73,439.24 155,439.07 155.26,438.91 155.52,438.74 155.76,438.57 156,438.4 156.23,438.23 156.46,438.05 156.7,437.87 156.93,437.68 157.17,437.49 157.41,437.29 157.64,437.09 157.88,436.89 158.11,436.68 158.33,436.47 158.56,436.26 158.78,436.05 158.99,435.84 159.2,435.63 159.41,435.41 159.6,435.2 159.79,434.99 159.97,434.78 160.16,434.57 160.34,434.36 160.51,434.15 160.68,433.95 160.85,433.73 161.01,433.52 161.16,433.3 161.31,433.08 161.46,432.85 161.6,432.61 161.73,432.37 161.86,432.12 161.98,431.87 162.1,431.6 162.21,431.32 162.3,431.02 162.39,430.72 162.46,430.4 162.53,430.07 162.6,429.73 162.66,429.39 162.71,429.05 162.77,428.71 162.82,428.37 162.87,428.03 162.93,427.7 162.99,427.38 163.05,427.08 163.12,426.78 163.2,426.5 163.28,426.23 163.36,425.98 163.44,425.73 163.51,425.5 163.59,425.27 163.67,425.04 163.75,424.83 163.84,424.61 163.93,424.4 164.02,424.19 164.11,423.98 164.22,423.77 164.33,423.56 164.44,423.34 164.57,423.13 164.7,422.9 164.84,422.67 164.99,422.43 165.14,422.19 165.29,421.94 165.46,421.7 165.62,421.45 165.8,421.2 165.97,420.96 166.16,420.71 166.35,420.47 166.54,420.24 166.74,420.01 166.95,419.8 167.16,419.59 167.38,419.39 167.6,419.2 167.84,419.02 168.1,418.85 168.38,418.68 168.68,418.51 168.98,418.36 169.3,418.2 169.62,418.06 169.93,417.92 170.24,417.79 170.54,417.66 170.83,417.55 171.09,417.44 171.34,417.34 171.56,417.25 171.75,417.17 171.9,417.1" fill="none" stroke="#e84a4a" stroke-width="1" stroke-linejoin="round"/>
<line x1="152.96" y1="440.23" x2="152" y2="438.48" stroke="#f08080" stroke-width="0.6"/>
<line x1="154.27" y1="439.51" x2="153.26" y2="437.77" stroke="#f08080" stroke-width="0.6"/>
<line x1="155.54" y1="438.72" x2="154.42" y2="437.07" stroke="#f08080" stroke-width="0.6"/>
<line x1="156.75" y1="437.83" x2="155.5" y2="436.26" stroke="#f08080" stroke-width="0.6"/>
<line x1="157.9" y1="436.87" x2="156.57" y2="435.37" stroke="#f08080" stroke-width="0.6"/>
<line x1="158.99" y1="435.84" x2="157.59" y2="434.42" stroke="#f08080" stroke-width="0.6"/>
<line x1="160.01" y1="434.74" x2="158.51" y2="433.42" stroke="#f08080" stroke-width="0.6"/>
<line x1="160.96" y1="433.58" x2="159.36" y2="432.38" stroke="#f08080" stroke-width="0.6"/>
<line x1="161.76" y1="432.31" x2="159.99" y2="431.4" stroke="#f08080" stroke-width="0.6"/>
<line x1="162.33" y1="430.93" x2="160.4" y2="430.39" stroke="#f08080" stroke-width="0.6"/>
<line x1="162.64" y1="429.46" x2="160.67" y2="429.12" stroke="#f08080" stroke-width="0.6"/>
<line x1="162.88" y1="427.98" x2="160.91" y2="427.64" stroke="#f08080" stroke-width="0.6"/>
<line x1="163.2" y1="426.51" x2="161.27" y2="425.98" stroke="#f08080" stroke-width="0.6"/>
<line x1="163.66" y1="425.09" x2="161.77" y2="424.42" stroke="#f08080" stroke-width="0.6"/>
<line x1="164.25" y1="423.71" x2="162.47" y2="422.79" stroke="#f08080" stroke-width="0.6"/>
<line x1="165" y1="422.41" x2="163.3" y2="421.35" stroke="#f08080" stroke-width="0.6"/>
<line x1="165.83" y1="421.16" x2="164.21" y2="419.99" stroke="#f08080" stroke-width="0.6"/>
<line x1="166.77" y1="419.99" x2="165.31" y2="418.62" stroke="#f08080" stroke-width="0.6"/>
<line x1="167.88" y1="418.99" x2="166.77" y2="417.33" stroke="#f08080" stroke-width="0.6"/>
<line x1="169.19" y1="418.26" x2="168.31" y2="416.46" stroke="#f08080" stroke-width="0.6"/>
<line x1="170.56" y1="417.66" x2="169.81" y2="415.8" stroke="#f08080" stroke-width="0.6"/>
<circle cx="185.2" cy="376.4" r="3.5" fill="#5cc4bc"/>
<circle cx="185.2" cy="376.4" r="1.5" fill="#1f9590"/>
<circle cx="207.4" cy="433.5" r="3.5" fill="#5cc4bc"/>
<circle cx="207.4" cy="433.5" r="1.5" fill="#1f9590"/>
<circle cx="45.9" cy="438.1" r="3.5" fill="#5cc4bc"/>
<circle cx="45.9" cy="438.1" r="1.5" fill="#1f9590"/>
<polygon points="203.7,380.5 205.19,382.5 207.66,382.14 207.3,384.61 209.3,386.1 207.3,387.59 207.66,390.06 205.19,389.7 203.7,391.7 202.21,389.7 199.74,390.06 200.1,387.59 198.1,386.1 200.1,384.61 199.74,382.14 202.21,382.5" fill="#f2c41e"/>
<circle cx="203.7" cy="386.1" r="3.1" fill="#ec8a2a"/>
<polygon points="182.8,390.8 184.29,392.8 186.76,392.44 186.4,394.91 188.4,396.4 186.4,397.89 186.76,400.36 184.29,400 182.8,402 181.31,400 178.84,400.36 179.2,397.89 177.2,396.4 179.2,394.91 178.84,392.44 181.31,392.8" fill="#f2c41e"/>
<circle cx="182.8" cy="396.4" r="3.1" fill="#ec8a2a"/>
<polygon points="192.9,427.9 194.39,429.9 196.86,429.54 196.5,432.01 198.5,433.5 196.5,434.99 196.86,437.46 194.39,437.1 192.9,439.1 191.41,437.1 188.94,437.46 189.3,434.99 187.3,433.5 189.3,432.01 188.94,429.54 191.41,429.9" fill="#f2c41e"/>
<circle cx="192.9" cy="433.5" r="3.1" fill="#ec8a2a"/>
</svg>
</body></html>
